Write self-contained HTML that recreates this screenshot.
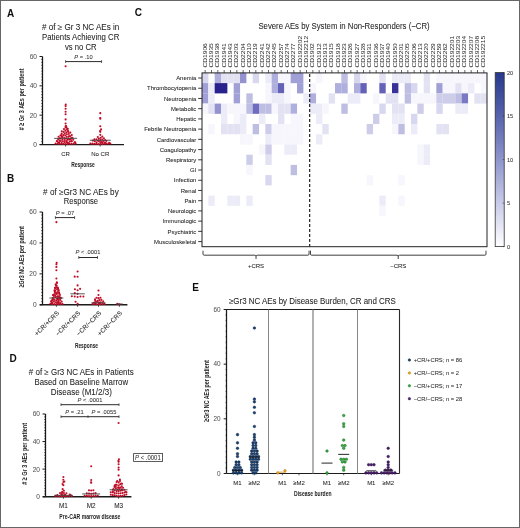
<!DOCTYPE html>
<html><head><meta charset="utf-8"><style>
html,body{margin:0;padding:0;background:#fff;}
svg{display:block;font-family:"Liberation Sans", sans-serif;}
</style></head><body>
<svg width="520" height="528" viewBox="0 0 520 528">
<rect x="0" y="0" width="520" height="528" fill="#fff"/>
<defs><filter id="soft" x="-2%" y="-2%" width="104%" height="104%"><feGaussianBlur stdDeviation="0.32"/></filter></defs>
<g filter="url(#soft)">
<text x="10.50" y="17.30" font-size="10" text-anchor="middle" fill="#111" font-weight="bold" font-style="normal" >A</text>
<text x="0" y="0" font-size="8.2" text-anchor="middle" fill="#222" font-weight="normal" font-style="normal" transform="translate(80.70,30.00) rotate(0) scale(0.989,1)"  stroke="#222" stroke-width="0.05"># of ≥ Gr 3 NC AEs in</text>
<text x="0" y="0" font-size="8.2" text-anchor="middle" fill="#222" font-weight="normal" font-style="normal" transform="translate(80.70,39.75) rotate(0) scale(0.955,1)"  stroke="#222" stroke-width="0.05">Patients Achieving CR</text>
<text x="0" y="0" font-size="8.2" text-anchor="middle" fill="#222" font-weight="normal" font-style="normal" transform="translate(80.70,49.50) rotate(0) scale(0.94,1)"  stroke="#222" stroke-width="0.05">vs no CR</text>
<line x1="42.50" y1="56.50" x2="42.50" y2="144.50" stroke="#1a1a1a" stroke-width="1.25" />
<line x1="39.50" y1="144.50" x2="42.50" y2="144.50" stroke="#1a1a1a" stroke-width="1.0" />
<line x1="41.10" y1="141.57" x2="42.50" y2="141.57" stroke="#1a1a1a" stroke-width="0.6" />
<line x1="41.10" y1="138.63" x2="42.50" y2="138.63" stroke="#1a1a1a" stroke-width="0.6" />
<line x1="41.10" y1="135.70" x2="42.50" y2="135.70" stroke="#1a1a1a" stroke-width="0.6" />
<line x1="41.10" y1="132.77" x2="42.50" y2="132.77" stroke="#1a1a1a" stroke-width="0.6" />
<line x1="41.10" y1="129.83" x2="42.50" y2="129.83" stroke="#1a1a1a" stroke-width="0.6" />
<line x1="41.10" y1="126.90" x2="42.50" y2="126.90" stroke="#1a1a1a" stroke-width="0.6" />
<line x1="41.10" y1="123.97" x2="42.50" y2="123.97" stroke="#1a1a1a" stroke-width="0.6" />
<line x1="41.10" y1="121.03" x2="42.50" y2="121.03" stroke="#1a1a1a" stroke-width="0.6" />
<line x1="41.10" y1="118.10" x2="42.50" y2="118.10" stroke="#1a1a1a" stroke-width="0.6" />
<line x1="39.50" y1="115.17" x2="42.50" y2="115.17" stroke="#1a1a1a" stroke-width="1.0" />
<line x1="41.10" y1="112.23" x2="42.50" y2="112.23" stroke="#1a1a1a" stroke-width="0.6" />
<line x1="41.10" y1="109.30" x2="42.50" y2="109.30" stroke="#1a1a1a" stroke-width="0.6" />
<line x1="41.10" y1="106.37" x2="42.50" y2="106.37" stroke="#1a1a1a" stroke-width="0.6" />
<line x1="41.10" y1="103.43" x2="42.50" y2="103.43" stroke="#1a1a1a" stroke-width="0.6" />
<line x1="41.10" y1="100.50" x2="42.50" y2="100.50" stroke="#1a1a1a" stroke-width="0.6" />
<line x1="41.10" y1="97.57" x2="42.50" y2="97.57" stroke="#1a1a1a" stroke-width="0.6" />
<line x1="41.10" y1="94.63" x2="42.50" y2="94.63" stroke="#1a1a1a" stroke-width="0.6" />
<line x1="41.10" y1="91.70" x2="42.50" y2="91.70" stroke="#1a1a1a" stroke-width="0.6" />
<line x1="41.10" y1="88.77" x2="42.50" y2="88.77" stroke="#1a1a1a" stroke-width="0.6" />
<line x1="39.50" y1="85.83" x2="42.50" y2="85.83" stroke="#1a1a1a" stroke-width="1.0" />
<line x1="41.10" y1="82.90" x2="42.50" y2="82.90" stroke="#1a1a1a" stroke-width="0.6" />
<line x1="41.10" y1="79.97" x2="42.50" y2="79.97" stroke="#1a1a1a" stroke-width="0.6" />
<line x1="41.10" y1="77.03" x2="42.50" y2="77.03" stroke="#1a1a1a" stroke-width="0.6" />
<line x1="41.10" y1="74.10" x2="42.50" y2="74.10" stroke="#1a1a1a" stroke-width="0.6" />
<line x1="41.10" y1="71.17" x2="42.50" y2="71.17" stroke="#1a1a1a" stroke-width="0.6" />
<line x1="41.10" y1="68.23" x2="42.50" y2="68.23" stroke="#1a1a1a" stroke-width="0.6" />
<line x1="41.10" y1="65.30" x2="42.50" y2="65.30" stroke="#1a1a1a" stroke-width="0.6" />
<line x1="41.10" y1="62.37" x2="42.50" y2="62.37" stroke="#1a1a1a" stroke-width="0.6" />
<line x1="41.10" y1="59.43" x2="42.50" y2="59.43" stroke="#1a1a1a" stroke-width="0.6" />
<line x1="39.50" y1="56.50" x2="42.50" y2="56.50" stroke="#1a1a1a" stroke-width="1.0" />
<text x="37.00" y="146.88" font-size="6.6" text-anchor="end" fill="#555" font-weight="normal" font-style="normal"  stroke="#555" stroke-width="0.05">0</text>
<text x="37.00" y="117.54" font-size="6.6" text-anchor="end" fill="#555" font-weight="normal" font-style="normal"  stroke="#555" stroke-width="0.05">20</text>
<text x="37.00" y="88.21" font-size="6.6" text-anchor="end" fill="#555" font-weight="normal" font-style="normal"  stroke="#555" stroke-width="0.05">40</text>
<text x="37.00" y="58.88" font-size="6.6" text-anchor="end" fill="#555" font-weight="normal" font-style="normal"  stroke="#555" stroke-width="0.05">60</text>
<line x1="39.80" y1="144.50" x2="124.00" y2="144.50" stroke="#1a1a1a" stroke-width="1.25" />
<line x1="65.60" y1="144.50" x2="65.60" y2="146.50" stroke="#222" stroke-width="0.8" />
<line x1="100.20" y1="144.50" x2="100.20" y2="146.50" stroke="#222" stroke-width="0.8" />
<text x="65.60" y="155.80" font-size="6.0" text-anchor="middle" fill="#222" font-weight="normal" font-style="normal"  stroke="#222" stroke-width="0.05">CR</text>
<text x="100.30" y="155.80" font-size="6.0" text-anchor="middle" fill="#222" font-weight="normal" font-style="normal"  stroke="#222" stroke-width="0.05">No CR</text>
<text x="0" y="0" font-size="8" text-anchor="middle" fill="#222" font-weight="bold" font-style="normal" transform="translate(83.00,167.00) rotate(0) scale(0.615,1)" >Response</text>
<text x="0" y="0" font-size="8" text-anchor="middle" fill="#222" font-weight="bold" font-style="normal" transform="translate(23.60,99.40) rotate(-90) scale(0.69,1)" ># ≥ Gr 3 AEs per patient</text>
<line x1="65.60" y1="61.60" x2="101.60" y2="61.60" stroke="#2a2a2a" stroke-width="1.0" />
<line x1="65.60" y1="60.20" x2="65.60" y2="63.00" stroke="#333" stroke-width="0.8" />
<line x1="101.60" y1="60.20" x2="101.60" y2="63.00" stroke="#333" stroke-width="0.8" />
<text x="0" y="0" font-size="6.2" text-anchor="middle" fill="#333" font-weight="normal" font-style="normal" transform="translate(83.50,59.00) rotate(0) scale(0.93,1)"  stroke="#333" stroke-width="0.05"><tspan font-style="italic">P</tspan> = .10</text>
<circle cx="65.60" cy="143.96" r="1.05" fill="#c00c28"/>
<circle cx="63.60" cy="143.85" r="1.05" fill="#c00c28"/>
<circle cx="67.60" cy="143.83" r="1.05" fill="#c00c28"/>
<circle cx="69.59" cy="143.79" r="1.05" fill="#c00c28"/>
<circle cx="61.60" cy="143.77" r="1.05" fill="#c00c28"/>
<circle cx="71.59" cy="143.73" r="1.05" fill="#c00c28"/>
<circle cx="59.61" cy="143.72" r="1.05" fill="#c00c28"/>
<circle cx="73.59" cy="143.71" r="1.05" fill="#c00c28"/>
<circle cx="57.61" cy="143.67" r="1.05" fill="#c00c28"/>
<circle cx="75.59" cy="143.57" r="1.05" fill="#c00c28"/>
<circle cx="55.61" cy="143.54" r="1.05" fill="#c00c28"/>
<circle cx="68.59" cy="143.00" r="1.05" fill="#c00c28"/>
<circle cx="61.63" cy="142.93" r="1.05" fill="#c00c28"/>
<circle cx="58.35" cy="142.78" r="1.05" fill="#c00c28"/>
<circle cx="67.54" cy="142.50" r="1.05" fill="#c00c28"/>
<circle cx="74.61" cy="142.41" r="1.05" fill="#c00c28"/>
<circle cx="66.84" cy="142.37" r="1.05" fill="#c00c28"/>
<circle cx="75.22" cy="142.23" r="1.05" fill="#c00c28"/>
<circle cx="59.19" cy="142.20" r="1.05" fill="#c00c28"/>
<circle cx="64.72" cy="142.17" r="1.05" fill="#c00c28"/>
<circle cx="69.84" cy="141.44" r="1.05" fill="#c00c28"/>
<circle cx="62.90" cy="141.34" r="1.05" fill="#c00c28"/>
<circle cx="71.83" cy="141.22" r="1.05" fill="#c00c28"/>
<circle cx="57.11" cy="141.20" r="1.05" fill="#c00c28"/>
<circle cx="71.22" cy="141.17" r="1.05" fill="#c00c28"/>
<circle cx="66.32" cy="141.09" r="1.05" fill="#c00c28"/>
<circle cx="60.93" cy="140.99" r="1.05" fill="#c00c28"/>
<circle cx="56.84" cy="140.93" r="1.05" fill="#c00c28"/>
<circle cx="59.62" cy="140.63" r="1.05" fill="#c00c28"/>
<circle cx="64.68" cy="139.94" r="1.05" fill="#c00c28"/>
<circle cx="67.87" cy="139.84" r="1.05" fill="#c00c28"/>
<circle cx="73.21" cy="139.77" r="1.05" fill="#c00c28"/>
<circle cx="62.45" cy="139.40" r="1.05" fill="#c00c28"/>
<circle cx="69.81" cy="139.33" r="1.05" fill="#c00c28"/>
<circle cx="58.10" cy="139.33" r="1.05" fill="#c00c28"/>
<circle cx="69.35" cy="139.31" r="1.05" fill="#c00c28"/>
<circle cx="70.94" cy="139.12" r="1.05" fill="#c00c28"/>
<circle cx="66.20" cy="138.64" r="1.05" fill="#c00c28"/>
<circle cx="60.67" cy="138.48" r="1.05" fill="#c00c28"/>
<circle cx="59.72" cy="138.38" r="1.05" fill="#c00c28"/>
<circle cx="68.49" cy="138.21" r="1.05" fill="#c00c28"/>
<circle cx="64.38" cy="137.81" r="1.05" fill="#c00c28"/>
<circle cx="72.45" cy="137.81" r="1.05" fill="#c00c28"/>
<circle cx="71.53" cy="137.75" r="1.05" fill="#c00c28"/>
<circle cx="62.53" cy="137.04" r="1.05" fill="#c00c28"/>
<circle cx="61.88" cy="136.85" r="1.05" fill="#c00c28"/>
<circle cx="66.86" cy="136.75" r="1.05" fill="#c00c28"/>
<circle cx="58.58" cy="136.74" r="1.05" fill="#c00c28"/>
<circle cx="68.78" cy="136.18" r="1.05" fill="#c00c28"/>
<circle cx="70.08" cy="136.17" r="1.05" fill="#c00c28"/>
<circle cx="65.29" cy="135.51" r="1.05" fill="#c00c28"/>
<circle cx="60.43" cy="135.47" r="1.05" fill="#c00c28"/>
<circle cx="63.33" cy="135.14" r="1.05" fill="#c00c28"/>
<circle cx="71.78" cy="135.12" r="1.05" fill="#c00c28"/>
<circle cx="61.34" cy="134.99" r="1.05" fill="#c00c28"/>
<circle cx="66.84" cy="134.24" r="1.05" fill="#c00c28"/>
<circle cx="68.82" cy="133.97" r="1.05" fill="#c00c28"/>
<circle cx="64.75" cy="133.59" r="1.05" fill="#c00c28"/>
<circle cx="61.69" cy="133.56" r="1.05" fill="#c00c28"/>
<circle cx="70.31" cy="132.64" r="1.05" fill="#c00c28"/>
<circle cx="66.29" cy="132.31" r="1.05" fill="#c00c28"/>
<circle cx="63.68" cy="131.90" r="1.05" fill="#c00c28"/>
<circle cx="68.25" cy="131.89" r="1.05" fill="#c00c28"/>
<circle cx="61.80" cy="131.22" r="1.05" fill="#c00c28"/>
<circle cx="67.95" cy="130.87" r="1.05" fill="#c00c28"/>
<circle cx="65.37" cy="130.54" r="1.05" fill="#c00c28"/>
<circle cx="66.84" cy="129.18" r="1.05" fill="#c00c28"/>
<circle cx="63.96" cy="129.12" r="1.05" fill="#c00c28"/>
<circle cx="67.82" cy="128.83" r="1.05" fill="#c00c28"/>
<circle cx="65.60" cy="127.50" r="1.05" fill="#c00c28"/>
<circle cx="66.43" cy="127.36" r="1.05" fill="#c00c28"/>
<circle cx="65.61" cy="126.33" r="1.05" fill="#c00c28"/>
<circle cx="66.02" cy="125.99" r="1.05" fill="#c00c28"/>
<circle cx="65.60" cy="123.56" r="1.05" fill="#c00c28"/>
<circle cx="65.60" cy="119.41" r="1.05" fill="#c00c28"/>
<circle cx="65.60" cy="114.32" r="1.05" fill="#c00c28"/>
<circle cx="65.60" cy="111.74" r="1.05" fill="#c00c28"/>
<circle cx="65.60" cy="108.81" r="1.05" fill="#c00c28"/>
<circle cx="65.60" cy="106.08" r="1.05" fill="#c00c28"/>
<circle cx="65.73" cy="104.57" r="1.05" fill="#c00c28"/>
<circle cx="65.60" cy="66.26" r="1.05" fill="#c00c28"/>
<line x1="54.10" y1="138.34" x2="77.10" y2="138.34" stroke="#444" stroke-width="0.9" />
<circle cx="100.30" cy="143.98" r="1.05" fill="#c00c28"/>
<circle cx="98.30" cy="143.96" r="1.05" fill="#c00c28"/>
<circle cx="102.30" cy="143.93" r="1.05" fill="#c00c28"/>
<circle cx="96.31" cy="143.78" r="1.05" fill="#c00c28"/>
<circle cx="104.29" cy="143.77" r="1.05" fill="#c00c28"/>
<circle cx="94.31" cy="143.77" r="1.05" fill="#c00c28"/>
<circle cx="106.29" cy="143.73" r="1.05" fill="#c00c28"/>
<circle cx="92.31" cy="143.64" r="1.05" fill="#c00c28"/>
<circle cx="108.29" cy="143.62" r="1.05" fill="#c00c28"/>
<circle cx="90.31" cy="143.60" r="1.05" fill="#c00c28"/>
<circle cx="110.29" cy="143.59" r="1.05" fill="#c00c28"/>
<circle cx="109.19" cy="142.86" r="1.05" fill="#c00c28"/>
<circle cx="102.37" cy="142.85" r="1.05" fill="#c00c28"/>
<circle cx="104.41" cy="142.84" r="1.05" fill="#c00c28"/>
<circle cx="105.45" cy="142.73" r="1.05" fill="#c00c28"/>
<circle cx="100.43" cy="142.70" r="1.05" fill="#c00c28"/>
<circle cx="96.54" cy="142.26" r="1.05" fill="#c00c28"/>
<circle cx="101.89" cy="142.09" r="1.05" fill="#c00c28"/>
<circle cx="100.79" cy="142.07" r="1.05" fill="#c00c28"/>
<circle cx="98.93" cy="141.36" r="1.05" fill="#c00c28"/>
<circle cx="94.83" cy="141.22" r="1.05" fill="#c00c28"/>
<circle cx="103.57" cy="141.01" r="1.05" fill="#c00c28"/>
<circle cx="106.34" cy="140.94" r="1.05" fill="#c00c28"/>
<circle cx="92.93" cy="140.60" r="1.05" fill="#c00c28"/>
<circle cx="97.96" cy="140.59" r="1.05" fill="#c00c28"/>
<circle cx="100.38" cy="139.99" r="1.05" fill="#c00c28"/>
<circle cx="105.17" cy="139.95" r="1.05" fill="#c00c28"/>
<circle cx="102.30" cy="139.45" r="1.05" fill="#c00c28"/>
<circle cx="96.46" cy="139.27" r="1.05" fill="#c00c28"/>
<circle cx="94.46" cy="139.19" r="1.05" fill="#c00c28"/>
<circle cx="98.89" cy="138.64" r="1.05" fill="#c00c28"/>
<circle cx="103.90" cy="138.24" r="1.05" fill="#c00c28"/>
<circle cx="100.73" cy="137.85" r="1.05" fill="#c00c28"/>
<circle cx="97.78" cy="136.98" r="1.05" fill="#c00c28"/>
<circle cx="102.29" cy="136.60" r="1.05" fill="#c00c28"/>
<circle cx="100.30" cy="134.85" r="1.05" fill="#c00c28"/>
<circle cx="100.30" cy="131.84" r="1.05" fill="#c00c28"/>
<circle cx="100.03" cy="131.07" r="1.05" fill="#c00c28"/>
<circle cx="101.11" cy="129.39" r="1.05" fill="#c00c28"/>
<circle cx="100.30" cy="126.26" r="1.05" fill="#c00c28"/>
<circle cx="100.30" cy="118.65" r="1.05" fill="#c00c28"/>
<circle cx="100.27" cy="117.98" r="1.05" fill="#c00c28"/>
<circle cx="100.30" cy="113.14" r="1.05" fill="#c00c28"/>
<line x1="89.80" y1="140.25" x2="110.80" y2="140.25" stroke="#444" stroke-width="0.9" />
<text x="10.50" y="182.00" font-size="10" text-anchor="middle" fill="#111" font-weight="bold" font-style="normal" >B</text>
<text x="0" y="0" font-size="8.2" text-anchor="middle" fill="#222" font-weight="normal" font-style="normal" transform="translate(80.90,194.80) rotate(0) scale(0.996,1)"  stroke="#222" stroke-width="0.05"># of ≥Gr3 NC AEs by</text>
<text x="0" y="0" font-size="8.2" text-anchor="middle" fill="#222" font-weight="normal" font-style="normal" transform="translate(80.90,204.40) rotate(0) scale(0.928,1)"  stroke="#222" stroke-width="0.05">Response</text>
<line x1="42.50" y1="212.00" x2="42.50" y2="304.80" stroke="#1a1a1a" stroke-width="1.25" />
<line x1="39.50" y1="304.80" x2="42.50" y2="304.80" stroke="#1a1a1a" stroke-width="1.0" />
<line x1="41.10" y1="301.71" x2="42.50" y2="301.71" stroke="#1a1a1a" stroke-width="0.6" />
<line x1="41.10" y1="298.61" x2="42.50" y2="298.61" stroke="#1a1a1a" stroke-width="0.6" />
<line x1="41.10" y1="295.52" x2="42.50" y2="295.52" stroke="#1a1a1a" stroke-width="0.6" />
<line x1="41.10" y1="292.43" x2="42.50" y2="292.43" stroke="#1a1a1a" stroke-width="0.6" />
<line x1="41.10" y1="289.33" x2="42.50" y2="289.33" stroke="#1a1a1a" stroke-width="0.6" />
<line x1="41.10" y1="286.24" x2="42.50" y2="286.24" stroke="#1a1a1a" stroke-width="0.6" />
<line x1="41.10" y1="283.15" x2="42.50" y2="283.15" stroke="#1a1a1a" stroke-width="0.6" />
<line x1="41.10" y1="280.05" x2="42.50" y2="280.05" stroke="#1a1a1a" stroke-width="0.6" />
<line x1="41.10" y1="276.96" x2="42.50" y2="276.96" stroke="#1a1a1a" stroke-width="0.6" />
<line x1="39.50" y1="273.87" x2="42.50" y2="273.87" stroke="#1a1a1a" stroke-width="1.0" />
<line x1="41.10" y1="270.77" x2="42.50" y2="270.77" stroke="#1a1a1a" stroke-width="0.6" />
<line x1="41.10" y1="267.68" x2="42.50" y2="267.68" stroke="#1a1a1a" stroke-width="0.6" />
<line x1="41.10" y1="264.59" x2="42.50" y2="264.59" stroke="#1a1a1a" stroke-width="0.6" />
<line x1="41.10" y1="261.49" x2="42.50" y2="261.49" stroke="#1a1a1a" stroke-width="0.6" />
<line x1="41.10" y1="258.40" x2="42.50" y2="258.40" stroke="#1a1a1a" stroke-width="0.6" />
<line x1="41.10" y1="255.31" x2="42.50" y2="255.31" stroke="#1a1a1a" stroke-width="0.6" />
<line x1="41.10" y1="252.21" x2="42.50" y2="252.21" stroke="#1a1a1a" stroke-width="0.6" />
<line x1="41.10" y1="249.12" x2="42.50" y2="249.12" stroke="#1a1a1a" stroke-width="0.6" />
<line x1="41.10" y1="246.03" x2="42.50" y2="246.03" stroke="#1a1a1a" stroke-width="0.6" />
<line x1="39.50" y1="242.93" x2="42.50" y2="242.93" stroke="#1a1a1a" stroke-width="1.0" />
<line x1="41.10" y1="239.84" x2="42.50" y2="239.84" stroke="#1a1a1a" stroke-width="0.6" />
<line x1="41.10" y1="236.75" x2="42.50" y2="236.75" stroke="#1a1a1a" stroke-width="0.6" />
<line x1="41.10" y1="233.65" x2="42.50" y2="233.65" stroke="#1a1a1a" stroke-width="0.6" />
<line x1="41.10" y1="230.56" x2="42.50" y2="230.56" stroke="#1a1a1a" stroke-width="0.6" />
<line x1="41.10" y1="227.47" x2="42.50" y2="227.47" stroke="#1a1a1a" stroke-width="0.6" />
<line x1="41.10" y1="224.37" x2="42.50" y2="224.37" stroke="#1a1a1a" stroke-width="0.6" />
<line x1="41.10" y1="221.28" x2="42.50" y2="221.28" stroke="#1a1a1a" stroke-width="0.6" />
<line x1="41.10" y1="218.19" x2="42.50" y2="218.19" stroke="#1a1a1a" stroke-width="0.6" />
<line x1="41.10" y1="215.09" x2="42.50" y2="215.09" stroke="#1a1a1a" stroke-width="0.6" />
<line x1="39.50" y1="212.00" x2="42.50" y2="212.00" stroke="#1a1a1a" stroke-width="1.0" />
<text x="36.60" y="307.18" font-size="6.6" text-anchor="end" fill="#555" font-weight="normal" font-style="normal"  stroke="#555" stroke-width="0.05">0</text>
<text x="36.60" y="276.24" font-size="6.6" text-anchor="end" fill="#555" font-weight="normal" font-style="normal"  stroke="#555" stroke-width="0.05">20</text>
<text x="36.60" y="245.31" font-size="6.6" text-anchor="end" fill="#555" font-weight="normal" font-style="normal"  stroke="#555" stroke-width="0.05">40</text>
<text x="36.60" y="214.38" font-size="6.6" text-anchor="end" fill="#555" font-weight="normal" font-style="normal"  stroke="#555" stroke-width="0.05">60</text>
<line x1="39.80" y1="304.80" x2="127.40" y2="304.80" stroke="#1a1a1a" stroke-width="1.4" />
<line x1="56.40" y1="304.80" x2="56.40" y2="306.80" stroke="#222" stroke-width="0.8" />
<circle cx="56.40" cy="304.17" r="1.05" fill="#c00c28"/>
<circle cx="54.40" cy="304.07" r="1.05" fill="#c00c28"/>
<circle cx="58.40" cy="304.04" r="1.05" fill="#c00c28"/>
<circle cx="60.40" cy="304.02" r="1.05" fill="#c00c28"/>
<circle cx="52.40" cy="304.00" r="1.05" fill="#c00c28"/>
<circle cx="62.39" cy="303.88" r="1.05" fill="#c00c28"/>
<circle cx="50.42" cy="303.78" r="1.05" fill="#c00c28"/>
<circle cx="58.64" cy="303.76" r="1.05" fill="#c00c28"/>
<circle cx="51.66" cy="303.22" r="1.05" fill="#c00c28"/>
<circle cx="52.10" cy="303.07" r="1.05" fill="#c00c28"/>
<circle cx="57.96" cy="303.07" r="1.05" fill="#c00c28"/>
<circle cx="60.09" cy="302.89" r="1.05" fill="#c00c28"/>
<circle cx="51.93" cy="302.60" r="1.05" fill="#c00c28"/>
<circle cx="58.14" cy="302.47" r="1.05" fill="#c00c28"/>
<circle cx="55.98" cy="302.22" r="1.05" fill="#c00c28"/>
<circle cx="54.04" cy="301.72" r="1.05" fill="#c00c28"/>
<circle cx="61.61" cy="301.58" r="1.05" fill="#c00c28"/>
<circle cx="58.30" cy="301.55" r="1.05" fill="#c00c28"/>
<circle cx="51.02" cy="301.33" r="1.05" fill="#c00c28"/>
<circle cx="58.51" cy="301.14" r="1.05" fill="#c00c28"/>
<circle cx="56.24" cy="300.77" r="1.05" fill="#c00c28"/>
<circle cx="51.93" cy="300.74" r="1.05" fill="#c00c28"/>
<circle cx="52.39" cy="300.13" r="1.05" fill="#c00c28"/>
<circle cx="60.19" cy="300.07" r="1.05" fill="#c00c28"/>
<circle cx="54.54" cy="299.72" r="1.05" fill="#c00c28"/>
<circle cx="53.81" cy="299.60" r="1.05" fill="#c00c28"/>
<circle cx="58.58" cy="299.54" r="1.05" fill="#c00c28"/>
<circle cx="52.69" cy="299.48" r="1.05" fill="#c00c28"/>
<circle cx="57.26" cy="299.43" r="1.05" fill="#c00c28"/>
<circle cx="60.06" cy="298.51" r="1.05" fill="#c00c28"/>
<circle cx="57.06" cy="298.45" r="1.05" fill="#c00c28"/>
<circle cx="58.30" cy="298.42" r="1.05" fill="#c00c28"/>
<circle cx="52.66" cy="298.12" r="1.05" fill="#c00c28"/>
<circle cx="60.82" cy="297.96" r="1.05" fill="#c00c28"/>
<circle cx="60.70" cy="297.92" r="1.05" fill="#c00c28"/>
<circle cx="55.58" cy="297.11" r="1.05" fill="#c00c28"/>
<circle cx="59.66" cy="297.11" r="1.05" fill="#c00c28"/>
<circle cx="53.97" cy="297.10" r="1.05" fill="#c00c28"/>
<circle cx="57.48" cy="296.49" r="1.05" fill="#c00c28"/>
<circle cx="57.19" cy="296.48" r="1.05" fill="#c00c28"/>
<circle cx="58.57" cy="296.38" r="1.05" fill="#c00c28"/>
<circle cx="55.07" cy="295.17" r="1.05" fill="#c00c28"/>
<circle cx="53.07" cy="295.14" r="1.05" fill="#c00c28"/>
<circle cx="59.98" cy="294.96" r="1.05" fill="#c00c28"/>
<circle cx="53.58" cy="294.90" r="1.05" fill="#c00c28"/>
<circle cx="53.61" cy="294.70" r="1.05" fill="#c00c28"/>
<circle cx="56.67" cy="293.97" r="1.05" fill="#c00c28"/>
<circle cx="59.20" cy="293.80" r="1.05" fill="#c00c28"/>
<circle cx="56.81" cy="293.51" r="1.05" fill="#c00c28"/>
<circle cx="59.26" cy="293.47" r="1.05" fill="#c00c28"/>
<circle cx="54.87" cy="293.04" r="1.05" fill="#c00c28"/>
<circle cx="55.91" cy="292.46" r="1.05" fill="#c00c28"/>
<circle cx="59.05" cy="292.27" r="1.05" fill="#c00c28"/>
<circle cx="57.66" cy="291.96" r="1.05" fill="#c00c28"/>
<circle cx="54.67" cy="291.61" r="1.05" fill="#c00c28"/>
<circle cx="55.09" cy="290.59" r="1.05" fill="#c00c28"/>
<circle cx="58.53" cy="290.42" r="1.05" fill="#c00c28"/>
<circle cx="54.50" cy="290.29" r="1.05" fill="#c00c28"/>
<circle cx="58.53" cy="289.93" r="1.05" fill="#c00c28"/>
<circle cx="57.00" cy="289.34" r="1.05" fill="#c00c28"/>
<circle cx="58.01" cy="288.48" r="1.05" fill="#c00c28"/>
<circle cx="55.28" cy="288.44" r="1.05" fill="#c00c28"/>
<circle cx="54.94" cy="287.77" r="1.05" fill="#c00c28"/>
<circle cx="57.76" cy="287.65" r="1.05" fill="#c00c28"/>
<circle cx="56.51" cy="287.28" r="1.05" fill="#c00c28"/>
<circle cx="55.97" cy="285.65" r="1.05" fill="#c00c28"/>
<circle cx="56.61" cy="285.53" r="1.05" fill="#c00c28"/>
<circle cx="55.69" cy="284.42" r="1.05" fill="#c00c28"/>
<circle cx="57.01" cy="282.92" r="1.05" fill="#c00c28"/>
<circle cx="56.80" cy="282.34" r="1.05" fill="#c00c28"/>
<circle cx="56.40" cy="278.49" r="1.05" fill="#c00c28"/>
<circle cx="56.40" cy="270.29" r="1.05" fill="#c00c28"/>
<circle cx="56.40" cy="266.91" r="1.05" fill="#c00c28"/>
<circle cx="56.40" cy="264.30" r="1.05" fill="#c00c28"/>
<circle cx="56.66" cy="262.85" r="1.05" fill="#c00c28"/>
<circle cx="56.40" cy="222.16" r="1.05" fill="#c00c28"/>
<line x1="49.40" y1="297.99" x2="63.40" y2="297.99" stroke="#444" stroke-width="0.9" />
<text x="0" y="0" font-size="6.4" text-anchor="end" fill="#222" font-weight="normal" font-style="normal" transform="translate(59.60,313.60) rotate(-45) scale(1.0,1)"  stroke="#222" stroke-width="0.05">+CR/+CRS</text>
<line x1="77.60" y1="304.80" x2="77.60" y2="306.80" stroke="#222" stroke-width="0.8" />
<circle cx="77.60" cy="303.78" r="1.05" fill="#c00c28"/>
<circle cx="75.56" cy="301.72" r="1.05" fill="#c00c28"/>
<circle cx="77.60" cy="296.95" r="1.05" fill="#c00c28"/>
<circle cx="74.73" cy="296.57" r="1.05" fill="#c00c28"/>
<circle cx="80.46" cy="296.45" r="1.05" fill="#c00c28"/>
<circle cx="83.36" cy="296.43" r="1.05" fill="#c00c28"/>
<circle cx="71.85" cy="296.19" r="1.05" fill="#c00c28"/>
<circle cx="77.60" cy="293.83" r="1.05" fill="#c00c28"/>
<circle cx="74.78" cy="293.13" r="1.05" fill="#c00c28"/>
<circle cx="77.60" cy="290.32" r="1.05" fill="#c00c28"/>
<circle cx="74.90" cy="289.25" r="1.05" fill="#c00c28"/>
<circle cx="80.11" cy="288.86" r="1.05" fill="#c00c28"/>
<circle cx="77.60" cy="285.39" r="1.05" fill="#c00c28"/>
<circle cx="77.60" cy="276.74" r="1.05" fill="#c00c28"/>
<circle cx="74.70" cy="276.65" r="1.05" fill="#c00c28"/>
<circle cx="77.60" cy="271.50" r="1.05" fill="#c00c28"/>
<line x1="70.40" y1="293.82" x2="84.80" y2="293.82" stroke="#444" stroke-width="0.9" />
<text x="0" y="0" font-size="6.4" text-anchor="end" fill="#222" font-weight="normal" font-style="normal" transform="translate(80.80,313.60) rotate(-45) scale(1.0,1)"  stroke="#222" stroke-width="0.05">−CR/+CRS</text>
<line x1="98.50" y1="304.80" x2="98.50" y2="306.80" stroke="#222" stroke-width="0.8" />
<circle cx="98.50" cy="304.27" r="1.05" fill="#c00c28"/>
<circle cx="96.50" cy="304.27" r="1.05" fill="#c00c28"/>
<circle cx="100.49" cy="304.11" r="1.05" fill="#c00c28"/>
<circle cx="102.49" cy="304.11" r="1.05" fill="#c00c28"/>
<circle cx="94.51" cy="304.04" r="1.05" fill="#c00c28"/>
<circle cx="92.52" cy="303.93" r="1.05" fill="#c00c28"/>
<circle cx="104.48" cy="303.91" r="1.05" fill="#c00c28"/>
<circle cx="99.47" cy="303.85" r="1.05" fill="#c00c28"/>
<circle cx="102.63" cy="303.26" r="1.05" fill="#c00c28"/>
<circle cx="95.50" cy="303.08" r="1.05" fill="#c00c28"/>
<circle cx="98.67" cy="302.90" r="1.05" fill="#c00c28"/>
<circle cx="93.78" cy="302.76" r="1.05" fill="#c00c28"/>
<circle cx="99.00" cy="302.53" r="1.05" fill="#c00c28"/>
<circle cx="100.79" cy="302.23" r="1.05" fill="#c00c28"/>
<circle cx="97.04" cy="301.74" r="1.05" fill="#c00c28"/>
<circle cx="103.17" cy="301.33" r="1.05" fill="#c00c28"/>
<circle cx="95.22" cy="300.91" r="1.05" fill="#c00c28"/>
<circle cx="97.56" cy="300.89" r="1.05" fill="#c00c28"/>
<circle cx="99.42" cy="300.15" r="1.05" fill="#c00c28"/>
<circle cx="101.40" cy="299.87" r="1.05" fill="#c00c28"/>
<circle cx="95.05" cy="299.39" r="1.05" fill="#c00c28"/>
<circle cx="98.50" cy="298.13" r="1.05" fill="#c00c28"/>
<circle cx="96.54" cy="297.75" r="1.05" fill="#c00c28"/>
<circle cx="100.46" cy="297.72" r="1.05" fill="#c00c28"/>
<circle cx="98.50" cy="294.98" r="1.05" fill="#c00c28"/>
<circle cx="98.50" cy="290.49" r="1.05" fill="#c00c28"/>
<line x1="91.50" y1="302.79" x2="105.50" y2="302.79" stroke="#444" stroke-width="0.9" />
<text x="0" y="0" font-size="6.4" text-anchor="end" fill="#222" font-weight="normal" font-style="normal" transform="translate(101.70,313.60) rotate(-45) scale(1.0,1)"  stroke="#222" stroke-width="0.05">−CR/−CRS</text>
<line x1="119.40" y1="304.80" x2="119.40" y2="306.80" stroke="#222" stroke-width="0.8" />
<circle cx="119.40" cy="304.20" r="1.05" fill="#c00c28"/>
<circle cx="117.44" cy="303.80" r="1.05" fill="#c00c28"/>
<line x1="115.90" y1="304.03" x2="122.90" y2="304.03" stroke="#444" stroke-width="0.9" />
<text x="0" y="0" font-size="6.4" text-anchor="end" fill="#222" font-weight="normal" font-style="normal" transform="translate(122.60,313.60) rotate(-45) scale(1.0,1)"  stroke="#222" stroke-width="0.05">+CR/−CRS</text>
<text x="0" y="0" font-size="8" text-anchor="middle" fill="#222" font-weight="bold" font-style="normal" transform="translate(86.50,347.50) rotate(0) scale(0.605,1)" >Response</text>
<text x="0" y="0" font-size="8" text-anchor="middle" fill="#222" font-weight="bold" font-style="normal" transform="translate(23.60,256.70) rotate(-90) scale(0.663,1)" >≥Gr3 NC AEs per patient</text>
<line x1="55.40" y1="217.60" x2="74.60" y2="217.60" stroke="#2a2a2a" stroke-width="1.0" />
<line x1="55.40" y1="216.20" x2="55.40" y2="219.00" stroke="#333" stroke-width="0.8" />
<line x1="74.60" y1="216.20" x2="74.60" y2="219.00" stroke="#333" stroke-width="0.8" />
<text x="0" y="0" font-size="6.2" text-anchor="middle" fill="#333" font-weight="normal" font-style="normal" transform="translate(65.00,214.60) rotate(0) scale(0.93,1)"  stroke="#333" stroke-width="0.05"><tspan font-style="italic">P</tspan> = .07</text>
<line x1="78.80" y1="257.50" x2="97.50" y2="257.50" stroke="#2a2a2a" stroke-width="1.0" />
<line x1="78.80" y1="256.10" x2="78.80" y2="258.90" stroke="#333" stroke-width="0.8" />
<line x1="97.50" y1="256.10" x2="97.50" y2="258.90" stroke="#333" stroke-width="0.8" />
<text x="0" y="0" font-size="6.2" text-anchor="middle" fill="#333" font-weight="normal" font-style="normal" transform="translate(88.00,254.00) rotate(0) scale(0.93,1)"  stroke="#333" stroke-width="0.05"><tspan font-style="italic">P</tspan> &lt; .0001</text>
<text x="13.00" y="362.00" font-size="10" text-anchor="middle" fill="#111" font-weight="bold" font-style="normal" >D</text>
<text x="0" y="0" font-size="8.2" text-anchor="middle" fill="#222" font-weight="normal" font-style="normal" transform="translate(81.30,375.00) rotate(0) scale(0.973,1)"  stroke="#222" stroke-width="0.05"># of ≥ Gr3 NC AEs in Patients</text>
<text x="0" y="0" font-size="8.2" text-anchor="middle" fill="#222" font-weight="normal" font-style="normal" transform="translate(81.30,384.75) rotate(0) scale(0.956,1)"  stroke="#222" stroke-width="0.05">Based on Baseline Marrow</text>
<text x="0" y="0" font-size="8.2" text-anchor="middle" fill="#222" font-weight="normal" font-style="normal" transform="translate(81.30,394.50) rotate(0) scale(0.98,1)"  stroke="#222" stroke-width="0.05">Disease (M1/2/3)</text>
<line x1="45.50" y1="414.00" x2="45.50" y2="496.70" stroke="#1a1a1a" stroke-width="1.25" />
<line x1="42.50" y1="496.70" x2="45.50" y2="496.70" stroke="#1a1a1a" stroke-width="1.0" />
<line x1="44.10" y1="493.94" x2="45.50" y2="493.94" stroke="#1a1a1a" stroke-width="0.6" />
<line x1="44.10" y1="491.19" x2="45.50" y2="491.19" stroke="#1a1a1a" stroke-width="0.6" />
<line x1="44.10" y1="488.43" x2="45.50" y2="488.43" stroke="#1a1a1a" stroke-width="0.6" />
<line x1="44.10" y1="485.67" x2="45.50" y2="485.67" stroke="#1a1a1a" stroke-width="0.6" />
<line x1="44.10" y1="482.92" x2="45.50" y2="482.92" stroke="#1a1a1a" stroke-width="0.6" />
<line x1="44.10" y1="480.16" x2="45.50" y2="480.16" stroke="#1a1a1a" stroke-width="0.6" />
<line x1="44.10" y1="477.40" x2="45.50" y2="477.40" stroke="#1a1a1a" stroke-width="0.6" />
<line x1="44.10" y1="474.65" x2="45.50" y2="474.65" stroke="#1a1a1a" stroke-width="0.6" />
<line x1="44.10" y1="471.89" x2="45.50" y2="471.89" stroke="#1a1a1a" stroke-width="0.6" />
<line x1="42.50" y1="469.13" x2="45.50" y2="469.13" stroke="#1a1a1a" stroke-width="1.0" />
<line x1="44.10" y1="466.38" x2="45.50" y2="466.38" stroke="#1a1a1a" stroke-width="0.6" />
<line x1="44.10" y1="463.62" x2="45.50" y2="463.62" stroke="#1a1a1a" stroke-width="0.6" />
<line x1="44.10" y1="460.86" x2="45.50" y2="460.86" stroke="#1a1a1a" stroke-width="0.6" />
<line x1="44.10" y1="458.11" x2="45.50" y2="458.11" stroke="#1a1a1a" stroke-width="0.6" />
<line x1="44.10" y1="455.35" x2="45.50" y2="455.35" stroke="#1a1a1a" stroke-width="0.6" />
<line x1="44.10" y1="452.59" x2="45.50" y2="452.59" stroke="#1a1a1a" stroke-width="0.6" />
<line x1="44.10" y1="449.84" x2="45.50" y2="449.84" stroke="#1a1a1a" stroke-width="0.6" />
<line x1="44.10" y1="447.08" x2="45.50" y2="447.08" stroke="#1a1a1a" stroke-width="0.6" />
<line x1="44.10" y1="444.32" x2="45.50" y2="444.32" stroke="#1a1a1a" stroke-width="0.6" />
<line x1="42.50" y1="441.57" x2="45.50" y2="441.57" stroke="#1a1a1a" stroke-width="1.0" />
<line x1="44.10" y1="438.81" x2="45.50" y2="438.81" stroke="#1a1a1a" stroke-width="0.6" />
<line x1="44.10" y1="436.05" x2="45.50" y2="436.05" stroke="#1a1a1a" stroke-width="0.6" />
<line x1="44.10" y1="433.30" x2="45.50" y2="433.30" stroke="#1a1a1a" stroke-width="0.6" />
<line x1="44.10" y1="430.54" x2="45.50" y2="430.54" stroke="#1a1a1a" stroke-width="0.6" />
<line x1="44.10" y1="427.78" x2="45.50" y2="427.78" stroke="#1a1a1a" stroke-width="0.6" />
<line x1="44.10" y1="425.03" x2="45.50" y2="425.03" stroke="#1a1a1a" stroke-width="0.6" />
<line x1="44.10" y1="422.27" x2="45.50" y2="422.27" stroke="#1a1a1a" stroke-width="0.6" />
<line x1="44.10" y1="419.51" x2="45.50" y2="419.51" stroke="#1a1a1a" stroke-width="0.6" />
<line x1="44.10" y1="416.76" x2="45.50" y2="416.76" stroke="#1a1a1a" stroke-width="0.6" />
<line x1="42.50" y1="414.00" x2="45.50" y2="414.00" stroke="#1a1a1a" stroke-width="1.0" />
<text x="40.00" y="499.08" font-size="6.6" text-anchor="end" fill="#555" font-weight="normal" font-style="normal"  stroke="#555" stroke-width="0.05">0</text>
<text x="40.00" y="471.51" font-size="6.6" text-anchor="end" fill="#555" font-weight="normal" font-style="normal"  stroke="#555" stroke-width="0.05">20</text>
<text x="40.00" y="443.94" font-size="6.6" text-anchor="end" fill="#555" font-weight="normal" font-style="normal"  stroke="#555" stroke-width="0.05">40</text>
<text x="40.00" y="416.38" font-size="6.6" text-anchor="end" fill="#555" font-weight="normal" font-style="normal"  stroke="#555" stroke-width="0.05">60</text>
<line x1="42.80" y1="496.70" x2="131.40" y2="496.70" stroke="#1a1a1a" stroke-width="1.4" />
<line x1="63.40" y1="496.70" x2="63.40" y2="498.70" stroke="#222" stroke-width="0.8" />
<circle cx="63.40" cy="496.16" r="1.05" fill="#c00c28"/>
<circle cx="61.40" cy="496.16" r="1.05" fill="#c00c28"/>
<circle cx="65.40" cy="496.16" r="1.05" fill="#c00c28"/>
<circle cx="59.40" cy="496.10" r="1.05" fill="#c00c28"/>
<circle cx="67.40" cy="496.06" r="1.05" fill="#c00c28"/>
<circle cx="57.40" cy="495.99" r="1.05" fill="#c00c28"/>
<circle cx="69.40" cy="495.97" r="1.05" fill="#c00c28"/>
<circle cx="55.41" cy="495.90" r="1.05" fill="#c00c28"/>
<circle cx="71.39" cy="495.84" r="1.05" fill="#c00c28"/>
<circle cx="71.70" cy="495.76" r="1.05" fill="#c00c28"/>
<circle cx="57.30" cy="495.09" r="1.05" fill="#c00c28"/>
<circle cx="64.63" cy="495.04" r="1.05" fill="#c00c28"/>
<circle cx="70.34" cy="494.99" r="1.05" fill="#c00c28"/>
<circle cx="65.06" cy="494.71" r="1.05" fill="#c00c28"/>
<circle cx="69.70" cy="494.65" r="1.05" fill="#c00c28"/>
<circle cx="61.89" cy="494.49" r="1.05" fill="#c00c28"/>
<circle cx="62.51" cy="494.49" r="1.05" fill="#c00c28"/>
<circle cx="61.56" cy="494.46" r="1.05" fill="#c00c28"/>
<circle cx="61.57" cy="494.37" r="1.05" fill="#c00c28"/>
<circle cx="66.41" cy="493.24" r="1.05" fill="#c00c28"/>
<circle cx="60.04" cy="493.08" r="1.05" fill="#c00c28"/>
<circle cx="63.89" cy="493.05" r="1.05" fill="#c00c28"/>
<circle cx="62.03" cy="492.33" r="1.05" fill="#c00c28"/>
<circle cx="62.29" cy="491.96" r="1.05" fill="#c00c28"/>
<circle cx="63.89" cy="490.76" r="1.05" fill="#c00c28"/>
<circle cx="62.67" cy="489.17" r="1.05" fill="#c00c28"/>
<circle cx="63.40" cy="485.19" r="1.05" fill="#c00c28"/>
<circle cx="62.55" cy="484.08" r="1.05" fill="#c00c28"/>
<circle cx="63.40" cy="482.03" r="1.05" fill="#c00c28"/>
<circle cx="64.37" cy="481.49" r="1.05" fill="#c00c28"/>
<circle cx="63.27" cy="479.81" r="1.05" fill="#c00c28"/>
<circle cx="63.40" cy="477.07" r="1.05" fill="#c00c28"/>
<line x1="54.40" y1="495.32" x2="72.40" y2="495.32" stroke="#444" stroke-width="0.9" />
<text x="63.40" y="507.50" font-size="6.4" text-anchor="middle" fill="#222" font-weight="normal" font-style="normal"  stroke="#222" stroke-width="0.05">M1</text>
<line x1="91.20" y1="496.70" x2="91.20" y2="498.70" stroke="#222" stroke-width="0.8" />
<circle cx="91.20" cy="496.16" r="1.05" fill="#c00c28"/>
<circle cx="89.00" cy="496.10" r="1.05" fill="#c00c28"/>
<circle cx="93.39" cy="495.96" r="1.05" fill="#c00c28"/>
<circle cx="86.82" cy="495.84" r="1.05" fill="#c00c28"/>
<circle cx="95.59" cy="495.83" r="1.05" fill="#c00c28"/>
<circle cx="84.62" cy="495.73" r="1.05" fill="#c00c28"/>
<circle cx="97.78" cy="495.72" r="1.05" fill="#c00c28"/>
<circle cx="91.20" cy="493.69" r="1.05" fill="#c00c28"/>
<circle cx="89.00" cy="493.57" r="1.05" fill="#c00c28"/>
<circle cx="93.39" cy="493.48" r="1.05" fill="#c00c28"/>
<circle cx="86.81" cy="493.34" r="1.05" fill="#c00c28"/>
<circle cx="95.56" cy="493.13" r="1.05" fill="#c00c28"/>
<circle cx="91.20" cy="490.45" r="1.05" fill="#c00c28"/>
<circle cx="89.00" cy="490.35" r="1.05" fill="#c00c28"/>
<circle cx="93.39" cy="490.25" r="1.05" fill="#c00c28"/>
<circle cx="91.20" cy="482.74" r="1.05" fill="#c00c28"/>
<circle cx="91.10" cy="482.24" r="1.05" fill="#c00c28"/>
<circle cx="91.20" cy="479.98" r="1.05" fill="#c00c28"/>
<circle cx="91.20" cy="466.28" r="1.05" fill="#c00c28"/>
<line x1="82.20" y1="493.94" x2="100.20" y2="493.94" stroke="#444" stroke-width="0.9" />
<text x="91.20" y="507.50" font-size="6.4" text-anchor="middle" fill="#222" font-weight="normal" font-style="normal"  stroke="#222" stroke-width="0.05">M2</text>
<line x1="118.60" y1="496.70" x2="118.60" y2="498.70" stroke="#222" stroke-width="0.8" />
<circle cx="118.60" cy="496.12" r="1.05" fill="#c00c28"/>
<circle cx="116.61" cy="495.92" r="1.05" fill="#c00c28"/>
<circle cx="120.58" cy="495.84" r="1.05" fill="#c00c28"/>
<circle cx="122.58" cy="495.78" r="1.05" fill="#c00c28"/>
<circle cx="114.75" cy="495.19" r="1.05" fill="#c00c28"/>
<circle cx="112.75" cy="495.13" r="1.05" fill="#c00c28"/>
<circle cx="124.46" cy="495.11" r="1.05" fill="#c00c28"/>
<circle cx="110.78" cy="494.80" r="1.05" fill="#c00c28"/>
<circle cx="126.36" cy="494.47" r="1.05" fill="#c00c28"/>
<circle cx="118.60" cy="493.43" r="1.05" fill="#c00c28"/>
<circle cx="116.60" cy="493.30" r="1.05" fill="#c00c28"/>
<circle cx="120.58" cy="493.18" r="1.05" fill="#c00c28"/>
<circle cx="122.58" cy="493.09" r="1.05" fill="#c00c28"/>
<circle cx="114.62" cy="493.09" r="1.05" fill="#c00c28"/>
<circle cx="124.48" cy="492.47" r="1.05" fill="#c00c28"/>
<circle cx="112.75" cy="492.37" r="1.05" fill="#c00c28"/>
<circle cx="110.75" cy="492.34" r="1.05" fill="#c00c28"/>
<circle cx="126.47" cy="492.28" r="1.05" fill="#c00c28"/>
<circle cx="125.64" cy="491.79" r="1.05" fill="#c00c28"/>
<circle cx="112.88" cy="491.78" r="1.05" fill="#c00c28"/>
<circle cx="118.60" cy="491.16" r="1.05" fill="#c00c28"/>
<circle cx="116.60" cy="491.09" r="1.05" fill="#c00c28"/>
<circle cx="120.57" cy="490.82" r="1.05" fill="#c00c28"/>
<circle cx="114.72" cy="490.43" r="1.05" fill="#c00c28"/>
<circle cx="122.50" cy="490.30" r="1.05" fill="#c00c28"/>
<circle cx="122.17" cy="490.29" r="1.05" fill="#c00c28"/>
<circle cx="124.44" cy="489.79" r="1.05" fill="#c00c28"/>
<circle cx="112.85" cy="489.71" r="1.05" fill="#c00c28"/>
<circle cx="117.47" cy="489.61" r="1.05" fill="#c00c28"/>
<circle cx="121.77" cy="489.35" r="1.05" fill="#c00c28"/>
<circle cx="119.41" cy="489.15" r="1.05" fill="#c00c28"/>
<circle cx="113.58" cy="488.96" r="1.05" fill="#c00c28"/>
<circle cx="115.91" cy="488.35" r="1.05" fill="#c00c28"/>
<circle cx="123.03" cy="487.79" r="1.05" fill="#c00c28"/>
<circle cx="118.06" cy="487.67" r="1.05" fill="#c00c28"/>
<circle cx="120.70" cy="487.62" r="1.05" fill="#c00c28"/>
<circle cx="118.96" cy="487.57" r="1.05" fill="#c00c28"/>
<circle cx="114.46" cy="486.97" r="1.05" fill="#c00c28"/>
<circle cx="115.77" cy="486.67" r="1.05" fill="#c00c28"/>
<circle cx="114.90" cy="486.31" r="1.05" fill="#c00c28"/>
<circle cx="121.76" cy="486.22" r="1.05" fill="#c00c28"/>
<circle cx="118.60" cy="485.53" r="1.05" fill="#c00c28"/>
<circle cx="114.69" cy="485.45" r="1.05" fill="#c00c28"/>
<circle cx="116.73" cy="484.81" r="1.05" fill="#c00c28"/>
<circle cx="115.45" cy="484.73" r="1.05" fill="#c00c28"/>
<circle cx="120.16" cy="484.27" r="1.05" fill="#c00c28"/>
<circle cx="122.10" cy="483.78" r="1.05" fill="#c00c28"/>
<circle cx="121.16" cy="483.62" r="1.05" fill="#c00c28"/>
<circle cx="118.60" cy="482.40" r="1.05" fill="#c00c28"/>
<circle cx="116.62" cy="482.11" r="1.05" fill="#c00c28"/>
<circle cx="120.00" cy="480.97" r="1.05" fill="#c00c28"/>
<circle cx="117.19" cy="480.93" r="1.05" fill="#c00c28"/>
<circle cx="119.93" cy="479.65" r="1.05" fill="#c00c28"/>
<circle cx="118.60" cy="475.42" r="1.05" fill="#c00c28"/>
<circle cx="118.60" cy="469.64" r="1.05" fill="#c00c28"/>
<circle cx="118.60" cy="467.44" r="1.05" fill="#c00c28"/>
<circle cx="118.60" cy="464.24" r="1.05" fill="#c00c28"/>
<circle cx="118.60" cy="461.87" r="1.05" fill="#c00c28"/>
<circle cx="118.49" cy="460.75" r="1.05" fill="#c00c28"/>
<circle cx="118.91" cy="459.29" r="1.05" fill="#c00c28"/>
<circle cx="118.60" cy="422.94" r="1.05" fill="#c00c28"/>
<line x1="109.60" y1="489.81" x2="127.60" y2="489.81" stroke="#444" stroke-width="0.9" />
<text x="118.60" y="507.50" font-size="6.4" text-anchor="middle" fill="#222" font-weight="normal" font-style="normal"  stroke="#222" stroke-width="0.05">M3</text>
<text x="0" y="0" font-size="8" text-anchor="middle" fill="#222" font-weight="bold" font-style="normal" transform="translate(89.80,519.40) rotate(0) scale(0.64,1)" >Pre-CAR marrow disease</text>
<text x="0" y="0" font-size="8" text-anchor="middle" fill="#222" font-weight="bold" font-style="normal" transform="translate(27.20,453.90) rotate(-90) scale(0.69,1)" ># ≥ Gr 3 AEs per patient</text>
<line x1="61.00" y1="404.70" x2="119.00" y2="404.70" stroke="#2a2a2a" stroke-width="1.0" />
<line x1="61.00" y1="403.40" x2="61.00" y2="406.00" stroke="#333" stroke-width="0.8" />
<line x1="119.00" y1="403.40" x2="119.00" y2="406.00" stroke="#333" stroke-width="0.8" />
<text x="0" y="0" font-size="6.2" text-anchor="middle" fill="#333" font-weight="normal" font-style="normal" transform="translate(90.00,402.30) rotate(0) scale(0.93,1)"  stroke="#333" stroke-width="0.05"><tspan font-style="italic">P</tspan> &lt; .0001</text>
<line x1="61.00" y1="416.70" x2="119.00" y2="416.70" stroke="#2a2a2a" stroke-width="1.0" />
<line x1="61.00" y1="415.40" x2="61.00" y2="418.00" stroke="#333" stroke-width="0.8" />
<line x1="88.00" y1="415.40" x2="88.00" y2="418.00" stroke="#333" stroke-width="0.8" />
<line x1="119.00" y1="415.40" x2="119.00" y2="418.00" stroke="#333" stroke-width="0.8" />
<text x="0" y="0" font-size="6.2" text-anchor="middle" fill="#333" font-weight="normal" font-style="normal" transform="translate(74.50,414.20) rotate(0) scale(0.93,1)"  stroke="#333" stroke-width="0.05"><tspan font-style="italic">P</tspan> = .21</text>
<text x="0" y="0" font-size="6.2" text-anchor="middle" fill="#333" font-weight="normal" font-style="normal" transform="translate(104.00,414.20) rotate(0) scale(0.93,1)"  stroke="#333" stroke-width="0.05"><tspan font-style="italic">P</tspan> = .0055</text>
<rect x="133.6" y="453.6" width="29" height="7.8" fill="none" stroke="#333" stroke-width="0.8"/>
<text x="0" y="0" font-size="6.4" text-anchor="middle" fill="#333" font-weight="normal" font-style="normal" transform="translate(147.90,459.90) rotate(0) scale(0.93,1)"  stroke="#333" stroke-width="0.05"><tspan font-style="italic">P</tspan> &lt; .0001</text>
<text x="138.30" y="15.90" font-size="10" text-anchor="middle" fill="#111" font-weight="bold" font-style="normal" >C</text>
<text x="0" y="0" font-size="8.6" text-anchor="middle" fill="#222" font-weight="normal" font-style="normal" transform="translate(344.00,29.00) rotate(0) scale(0.905,1)"  stroke="#222" stroke-width="0.05">Severe AEs by System in Non-Responders (−CR)</text>
<rect x="202.00" y="72.90" width="6.38" height="10.27" fill="#d7d7ef" />
<rect x="214.67" y="72.90" width="6.38" height="10.27" fill="#afafdd" />
<rect x="221.00" y="72.90" width="6.38" height="10.27" fill="#e2e2f3" />
<rect x="227.33" y="72.90" width="6.38" height="10.27" fill="#e2e2f3" />
<rect x="233.67" y="72.90" width="6.38" height="10.27" fill="#e2e2f3" />
<rect x="240.00" y="72.90" width="6.38" height="10.27" fill="#9493d0" />
<rect x="252.67" y="72.90" width="6.38" height="10.27" fill="#d7d7ef" />
<rect x="265.33" y="72.90" width="6.38" height="10.27" fill="#ececf8" />
<rect x="271.67" y="72.90" width="6.38" height="10.27" fill="#afafdd" />
<rect x="278.00" y="72.90" width="6.38" height="10.27" fill="#f6f6fc" />
<rect x="284.33" y="72.90" width="6.38" height="10.27" fill="#f6f6fc" />
<rect x="290.67" y="72.90" width="6.38" height="10.27" fill="#a0a0d6" />
<rect x="297.00" y="72.90" width="6.38" height="10.27" fill="#a0a0d6" />
<rect x="316.00" y="72.90" width="6.38" height="10.27" fill="#f6f6fc" />
<rect x="341.33" y="72.90" width="6.38" height="10.27" fill="#bebee3" />
<rect x="354.00" y="72.90" width="6.38" height="10.27" fill="#d7d7ef" />
<rect x="360.33" y="72.90" width="6.38" height="10.27" fill="#f6f6fc" />
<rect x="379.33" y="72.90" width="6.38" height="10.27" fill="#e2e2f3" />
<rect x="392.00" y="72.90" width="6.38" height="10.27" fill="#ececf8" />
<rect x="398.33" y="72.90" width="6.38" height="10.27" fill="#ececf8" />
<rect x="404.67" y="72.90" width="6.38" height="10.27" fill="#ececf8" />
<rect x="423.67" y="72.90" width="6.38" height="10.27" fill="#e2e2f3" />
<rect x="436.33" y="72.90" width="6.38" height="10.27" fill="#f6f6fc" />
<rect x="442.67" y="72.90" width="6.38" height="10.27" fill="#f6f6fc" />
<rect x="449.00" y="72.90" width="6.38" height="10.27" fill="#f6f6fc" />
<rect x="455.33" y="72.90" width="6.38" height="10.27" fill="#f6f6fc" />
<rect x="461.67" y="72.90" width="6.38" height="10.27" fill="#f6f6fc" />
<rect x="468.00" y="72.90" width="6.38" height="10.27" fill="#f6f6fc" />
<rect x="474.33" y="72.90" width="6.38" height="10.27" fill="#f6f6fc" />
<rect x="480.67" y="72.90" width="6.38" height="10.27" fill="#f6f6fc" />
<rect x="202.00" y="83.12" width="6.38" height="10.27" fill="#a0a0d6" />
<rect x="208.33" y="83.12" width="6.38" height="10.27" fill="#ececf8" />
<rect x="214.67" y="83.12" width="6.38" height="10.27" fill="#2a228c" />
<rect x="221.00" y="83.12" width="6.38" height="10.27" fill="#2a228c" />
<rect x="233.67" y="83.12" width="6.38" height="10.27" fill="#a0a0d6" />
<rect x="265.33" y="83.12" width="6.38" height="10.27" fill="#f6f6fc" />
<rect x="271.67" y="83.12" width="6.38" height="10.27" fill="#afafdd" />
<rect x="278.00" y="83.12" width="6.38" height="10.27" fill="#6462b8" />
<rect x="284.33" y="83.12" width="6.38" height="10.27" fill="#f6f6fc" />
<rect x="297.00" y="83.12" width="6.38" height="10.27" fill="#a0a0d6" />
<rect x="309.67" y="83.12" width="6.38" height="10.27" fill="#f6f6fc" />
<rect x="335.00" y="83.12" width="6.38" height="10.27" fill="#afafdd" />
<rect x="341.33" y="83.12" width="6.38" height="10.27" fill="#afafdd" />
<rect x="354.00" y="83.12" width="6.38" height="10.27" fill="#afafdd" />
<rect x="360.33" y="83.12" width="6.38" height="10.27" fill="#6462b8" />
<rect x="379.33" y="83.12" width="6.38" height="10.27" fill="#6462b8" />
<rect x="392.00" y="83.12" width="6.38" height="10.27" fill="#393298" />
<rect x="404.67" y="83.12" width="6.38" height="10.27" fill="#bebee3" />
<rect x="411.00" y="83.12" width="6.38" height="10.27" fill="#d7d7ef" />
<rect x="423.67" y="83.12" width="6.38" height="10.27" fill="#e2e2f3" />
<rect x="436.33" y="83.12" width="6.38" height="10.27" fill="#a0a0d6" />
<rect x="442.67" y="83.12" width="6.38" height="10.27" fill="#f6f6fc" />
<rect x="449.00" y="83.12" width="6.38" height="10.27" fill="#f6f6fc" />
<rect x="455.33" y="83.12" width="6.38" height="10.27" fill="#e2e2f3" />
<rect x="461.67" y="83.12" width="6.38" height="10.27" fill="#f6f6fc" />
<rect x="468.00" y="83.12" width="6.38" height="10.27" fill="#ececf8" />
<rect x="480.67" y="83.12" width="6.38" height="10.27" fill="#f6f6fc" />
<rect x="202.00" y="93.35" width="6.38" height="10.27" fill="#a0a0d6" />
<rect x="208.33" y="93.35" width="6.38" height="10.27" fill="#ececf8" />
<rect x="233.67" y="93.35" width="6.38" height="10.27" fill="#a0a0d6" />
<rect x="246.33" y="93.35" width="6.38" height="10.27" fill="#bebee3" />
<rect x="265.33" y="93.35" width="6.38" height="10.27" fill="#f6f6fc" />
<rect x="271.67" y="93.35" width="6.38" height="10.27" fill="#ececf8" />
<rect x="278.00" y="93.35" width="6.38" height="10.27" fill="#ececf8" />
<rect x="284.33" y="93.35" width="6.38" height="10.27" fill="#f6f6fc" />
<rect x="303.33" y="93.35" width="6.38" height="10.27" fill="#ececf8" />
<rect x="309.67" y="93.35" width="6.38" height="10.27" fill="#afafdd" />
<rect x="328.67" y="93.35" width="6.38" height="10.27" fill="#e2e2f3" />
<rect x="347.67" y="93.35" width="6.38" height="10.27" fill="#ececf8" />
<rect x="354.00" y="93.35" width="6.38" height="10.27" fill="#ececf8" />
<rect x="373.00" y="93.35" width="6.38" height="10.27" fill="#f6f6fc" />
<rect x="385.67" y="93.35" width="6.38" height="10.27" fill="#e2e2f3" />
<rect x="392.00" y="93.35" width="6.38" height="10.27" fill="#e2e2f3" />
<rect x="404.67" y="93.35" width="6.38" height="10.27" fill="#bebee3" />
<rect x="411.00" y="93.35" width="6.38" height="10.27" fill="#f6f6fc" />
<rect x="417.33" y="93.35" width="6.38" height="10.27" fill="#f6f6fc" />
<rect x="423.67" y="93.35" width="6.38" height="10.27" fill="#f6f6fc" />
<rect x="430.00" y="93.35" width="6.38" height="10.27" fill="#f6f6fc" />
<rect x="436.33" y="93.35" width="6.38" height="10.27" fill="#cdcdea" />
<rect x="442.67" y="93.35" width="6.38" height="10.27" fill="#cdcdea" />
<rect x="449.00" y="93.35" width="6.38" height="10.27" fill="#cdcdea" />
<rect x="455.33" y="93.35" width="6.38" height="10.27" fill="#bebee3" />
<rect x="461.67" y="93.35" width="6.38" height="10.27" fill="#7a79c4" />
<rect x="474.33" y="93.35" width="6.38" height="10.27" fill="#e2e2f3" />
<rect x="480.67" y="93.35" width="6.38" height="10.27" fill="#e2e2f3" />
<rect x="202.00" y="103.57" width="6.38" height="10.27" fill="#f6f6fc" />
<rect x="208.33" y="103.57" width="6.38" height="10.27" fill="#e2e2f3" />
<rect x="214.67" y="103.57" width="6.38" height="10.27" fill="#9493d0" />
<rect x="221.00" y="103.57" width="6.38" height="10.27" fill="#ececf8" />
<rect x="227.33" y="103.57" width="6.38" height="10.27" fill="#f6f6fc" />
<rect x="233.67" y="103.57" width="6.38" height="10.27" fill="#f6f6fc" />
<rect x="240.00" y="103.57" width="6.38" height="10.27" fill="#f6f6fc" />
<rect x="246.33" y="103.57" width="6.38" height="10.27" fill="#bebee3" />
<rect x="252.67" y="103.57" width="6.38" height="10.27" fill="#6e6cbe" />
<rect x="259.00" y="103.57" width="6.38" height="10.27" fill="#bebee3" />
<rect x="265.33" y="103.57" width="6.38" height="10.27" fill="#bebee3" />
<rect x="271.67" y="103.57" width="6.38" height="10.27" fill="#f6f6fc" />
<rect x="278.00" y="103.57" width="6.38" height="10.27" fill="#e2e2f3" />
<rect x="284.33" y="103.57" width="6.38" height="10.27" fill="#e2e2f3" />
<rect x="290.67" y="103.57" width="6.38" height="10.27" fill="#afafdd" />
<rect x="309.67" y="103.57" width="6.38" height="10.27" fill="#ececf8" />
<rect x="316.00" y="103.57" width="6.38" height="10.27" fill="#ececf8" />
<rect x="322.33" y="103.57" width="6.38" height="10.27" fill="#f6f6fc" />
<rect x="341.33" y="103.57" width="6.38" height="10.27" fill="#bebee3" />
<rect x="379.33" y="103.57" width="6.38" height="10.27" fill="#d7d7ef" />
<rect x="392.00" y="103.57" width="6.38" height="10.27" fill="#e2e2f3" />
<rect x="398.33" y="103.57" width="6.38" height="10.27" fill="#e2e2f3" />
<rect x="417.33" y="103.57" width="6.38" height="10.27" fill="#cdcdea" />
<rect x="436.33" y="103.57" width="6.38" height="10.27" fill="#d7d7ef" />
<rect x="455.33" y="103.57" width="6.38" height="10.27" fill="#ececf8" />
<rect x="461.67" y="103.57" width="6.38" height="10.27" fill="#ececf8" />
<rect x="221.00" y="113.79" width="6.38" height="10.27" fill="#ececf8" />
<rect x="233.67" y="113.79" width="6.38" height="10.27" fill="#f6f6fc" />
<rect x="240.00" y="113.79" width="6.38" height="10.27" fill="#ececf8" />
<rect x="259.00" y="113.79" width="6.38" height="10.27" fill="#ececf8" />
<rect x="278.00" y="113.79" width="6.38" height="10.27" fill="#e2e2f3" />
<rect x="290.67" y="113.79" width="6.38" height="10.27" fill="#f6f6fc" />
<rect x="297.00" y="113.79" width="6.38" height="10.27" fill="#f6f6fc" />
<rect x="316.00" y="113.79" width="6.38" height="10.27" fill="#ececf8" />
<rect x="373.00" y="113.79" width="6.38" height="10.27" fill="#cdcdea" />
<rect x="392.00" y="113.79" width="6.38" height="10.27" fill="#ececf8" />
<rect x="398.33" y="113.79" width="6.38" height="10.27" fill="#ececf8" />
<rect x="411.00" y="113.79" width="6.38" height="10.27" fill="#d7d7ef" />
<rect x="208.33" y="124.02" width="6.38" height="10.27" fill="#f6f6fc" />
<rect x="221.00" y="124.02" width="6.38" height="10.27" fill="#e2e2f3" />
<rect x="227.33" y="124.02" width="6.38" height="10.27" fill="#e2e2f3" />
<rect x="233.67" y="124.02" width="6.38" height="10.27" fill="#e2e2f3" />
<rect x="240.00" y="124.02" width="6.38" height="10.27" fill="#ececf8" />
<rect x="252.67" y="124.02" width="6.38" height="10.27" fill="#bebee3" />
<rect x="265.33" y="124.02" width="6.38" height="10.27" fill="#cdcdea" />
<rect x="271.67" y="124.02" width="6.38" height="10.27" fill="#f6f6fc" />
<rect x="278.00" y="124.02" width="6.38" height="10.27" fill="#f6f6fc" />
<rect x="284.33" y="124.02" width="6.38" height="10.27" fill="#f6f6fc" />
<rect x="290.67" y="124.02" width="6.38" height="10.27" fill="#f6f6fc" />
<rect x="297.00" y="124.02" width="6.38" height="10.27" fill="#f6f6fc" />
<rect x="322.33" y="124.02" width="6.38" height="10.27" fill="#e2e2f3" />
<rect x="366.67" y="124.02" width="6.38" height="10.27" fill="#cdcdea" />
<rect x="392.00" y="124.02" width="6.38" height="10.27" fill="#f6f6fc" />
<rect x="398.33" y="124.02" width="6.38" height="10.27" fill="#bebee3" />
<rect x="411.00" y="124.02" width="6.38" height="10.27" fill="#ececf8" />
<rect x="436.33" y="124.02" width="6.38" height="10.27" fill="#e2e2f3" />
<rect x="442.67" y="124.02" width="6.38" height="10.27" fill="#e2e2f3" />
<rect x="240.00" y="134.24" width="6.38" height="10.27" fill="#f6f6fc" />
<rect x="246.33" y="134.24" width="6.38" height="10.27" fill="#f6f6fc" />
<rect x="265.33" y="134.24" width="6.38" height="10.27" fill="#ececf8" />
<rect x="271.67" y="134.24" width="6.38" height="10.27" fill="#f6f6fc" />
<rect x="278.00" y="134.24" width="6.38" height="10.27" fill="#f6f6fc" />
<rect x="284.33" y="134.24" width="6.38" height="10.27" fill="#f6f6fc" />
<rect x="290.67" y="134.24" width="6.38" height="10.27" fill="#f6f6fc" />
<rect x="297.00" y="134.24" width="6.38" height="10.27" fill="#f6f6fc" />
<rect x="316.00" y="134.24" width="6.38" height="10.27" fill="#ececf8" />
<rect x="259.00" y="144.46" width="6.38" height="10.27" fill="#f6f6fc" />
<rect x="265.33" y="144.46" width="6.38" height="10.27" fill="#cdcdea" />
<rect x="284.33" y="144.46" width="6.38" height="10.27" fill="#ececf8" />
<rect x="290.67" y="144.46" width="6.38" height="10.27" fill="#ececf8" />
<rect x="417.33" y="144.46" width="6.38" height="10.27" fill="#f6f6fc" />
<rect x="423.67" y="144.46" width="6.38" height="10.27" fill="#ececf8" />
<rect x="246.33" y="154.69" width="6.38" height="10.27" fill="#cdcdea" />
<rect x="265.33" y="154.69" width="6.38" height="10.27" fill="#e2e2f3" />
<rect x="417.33" y="154.69" width="6.38" height="10.27" fill="#f6f6fc" />
<rect x="423.67" y="154.69" width="6.38" height="10.27" fill="#ececf8" />
<rect x="246.33" y="164.91" width="6.38" height="10.27" fill="#f6f6fc" />
<rect x="290.67" y="164.91" width="6.38" height="10.27" fill="#bebee3" />
<rect x="265.33" y="175.14" width="6.38" height="10.27" fill="#d7d7ef" />
<rect x="366.67" y="175.14" width="6.38" height="10.27" fill="#f6f6fc" />
<rect x="398.33" y="175.14" width="6.38" height="10.27" fill="#f6f6fc" />
<rect x="208.33" y="195.58" width="6.38" height="10.27" fill="#ececf8" />
<rect x="227.33" y="195.58" width="6.38" height="10.27" fill="#ececf8" />
<rect x="233.67" y="195.58" width="6.38" height="10.27" fill="#ececf8" />
<rect x="246.33" y="195.58" width="6.38" height="10.27" fill="#ececf8" />
<rect x="379.33" y="195.58" width="6.38" height="10.27" fill="#ececf8" />
<rect x="398.33" y="195.58" width="6.38" height="10.27" fill="#f6f6fc" />
<rect x="379.33" y="205.81" width="6.38" height="10.27" fill="#f6f6fc" />
<rect x="202.00" y="72.90" width="285.00" height="173.80" fill="none" stroke="#222" stroke-width="1"/>
<line x1="309.67" y1="73.90" x2="309.67" y2="246.70" stroke="#222" stroke-width="1.2" stroke-dasharray="3.1,1.9"/>
<line x1="205.17" y1="70.00" x2="205.17" y2="72.90" stroke="#222" stroke-width="0.7" />
<text x="0" y="0" font-size="6.6" fill="#222" transform="translate(206.67,67.4) rotate(-90) scale(1,0.92)">CD1906</text>
<line x1="211.50" y1="70.00" x2="211.50" y2="72.90" stroke="#222" stroke-width="0.7" />
<text x="0" y="0" font-size="6.6" fill="#222" transform="translate(213.00,67.4) rotate(-90) scale(1,0.92)">CD1935</text>
<line x1="217.83" y1="70.00" x2="217.83" y2="72.90" stroke="#222" stroke-width="0.7" />
<text x="0" y="0" font-size="6.6" fill="#222" transform="translate(219.33,67.4) rotate(-90) scale(1,0.92)">CD1938</text>
<line x1="224.17" y1="70.00" x2="224.17" y2="72.90" stroke="#222" stroke-width="0.7" />
<text x="0" y="0" font-size="6.6" fill="#222" transform="translate(225.67,67.4) rotate(-90) scale(1,0.92)">CD1941</text>
<line x1="230.50" y1="70.00" x2="230.50" y2="72.90" stroke="#222" stroke-width="0.7" />
<text x="0" y="0" font-size="6.6" fill="#222" transform="translate(232.00,67.4) rotate(-90) scale(1,0.92)">CD1943</text>
<line x1="236.83" y1="70.00" x2="236.83" y2="72.90" stroke="#222" stroke-width="0.7" />
<text x="0" y="0" font-size="6.6" fill="#222" transform="translate(238.33,67.4) rotate(-90) scale(1,0.92)">CD2203</text>
<line x1="243.17" y1="70.00" x2="243.17" y2="72.90" stroke="#222" stroke-width="0.7" />
<text x="0" y="0" font-size="6.6" fill="#222" transform="translate(244.67,67.4) rotate(-90) scale(1,0.92)">CD2204</text>
<line x1="249.50" y1="70.00" x2="249.50" y2="72.90" stroke="#222" stroke-width="0.7" />
<text x="0" y="0" font-size="6.6" fill="#222" transform="translate(251.00,67.4) rotate(-90) scale(1,0.92)">CD2210</text>
<line x1="255.83" y1="70.00" x2="255.83" y2="72.90" stroke="#222" stroke-width="0.7" />
<text x="0" y="0" font-size="6.6" fill="#222" transform="translate(257.33,67.4) rotate(-90) scale(1,0.92)">CD2219</text>
<line x1="262.17" y1="70.00" x2="262.17" y2="72.90" stroke="#222" stroke-width="0.7" />
<text x="0" y="0" font-size="6.6" fill="#222" transform="translate(263.67,67.4) rotate(-90) scale(1,0.92)">CD2241</text>
<line x1="268.50" y1="70.00" x2="268.50" y2="72.90" stroke="#222" stroke-width="0.7" />
<text x="0" y="0" font-size="6.6" fill="#222" transform="translate(270.00,67.4) rotate(-90) scale(1,0.92)">CD2242</text>
<line x1="274.83" y1="70.00" x2="274.83" y2="72.90" stroke="#222" stroke-width="0.7" />
<text x="0" y="0" font-size="6.6" fill="#222" transform="translate(276.33,67.4) rotate(-90) scale(1,0.92)">CD2245</text>
<line x1="281.17" y1="70.00" x2="281.17" y2="72.90" stroke="#222" stroke-width="0.7" />
<text x="0" y="0" font-size="6.6" fill="#222" transform="translate(282.67,67.4) rotate(-90) scale(1,0.92)">CD2257</text>
<line x1="287.50" y1="70.00" x2="287.50" y2="72.90" stroke="#222" stroke-width="0.7" />
<text x="0" y="0" font-size="6.6" fill="#222" transform="translate(289.00,67.4) rotate(-90) scale(1,0.92)">CD2274</text>
<line x1="293.83" y1="70.00" x2="293.83" y2="72.90" stroke="#222" stroke-width="0.7" />
<text x="0" y="0" font-size="6.6" fill="#222" transform="translate(295.33,67.4) rotate(-90) scale(1,0.92)">CD2277</text>
<line x1="300.17" y1="70.00" x2="300.17" y2="72.90" stroke="#222" stroke-width="0.7" />
<text x="0" y="0" font-size="6.6" fill="#222" transform="translate(301.67,67.4) rotate(-90) scale(1,0.92)">CD192202</text>
<line x1="306.50" y1="70.00" x2="306.50" y2="72.90" stroke="#222" stroke-width="0.7" />
<text x="0" y="0" font-size="6.6" fill="#222" transform="translate(308.00,67.4) rotate(-90) scale(1,0.92)">CD192212</text>
<line x1="312.83" y1="70.00" x2="312.83" y2="72.90" stroke="#222" stroke-width="0.7" />
<text x="0" y="0" font-size="6.6" fill="#222" transform="translate(314.33,67.4) rotate(-90) scale(1,0.92)">CD1902</text>
<line x1="319.17" y1="70.00" x2="319.17" y2="72.90" stroke="#222" stroke-width="0.7" />
<text x="0" y="0" font-size="6.6" fill="#222" transform="translate(320.67,67.4) rotate(-90) scale(1,0.92)">CD1912</text>
<line x1="325.50" y1="70.00" x2="325.50" y2="72.90" stroke="#222" stroke-width="0.7" />
<text x="0" y="0" font-size="6.6" fill="#222" transform="translate(327.00,67.4) rotate(-90) scale(1,0.92)">CD1913</text>
<line x1="331.83" y1="70.00" x2="331.83" y2="72.90" stroke="#222" stroke-width="0.7" />
<text x="0" y="0" font-size="6.6" fill="#222" transform="translate(333.33,67.4) rotate(-90) scale(1,0.92)">CD1915</text>
<line x1="338.17" y1="70.00" x2="338.17" y2="72.90" stroke="#222" stroke-width="0.7" />
<text x="0" y="0" font-size="6.6" fill="#222" transform="translate(339.67,67.4) rotate(-90) scale(1,0.92)">CD1918</text>
<line x1="344.50" y1="70.00" x2="344.50" y2="72.90" stroke="#222" stroke-width="0.7" />
<text x="0" y="0" font-size="6.6" fill="#222" transform="translate(346.00,67.4) rotate(-90) scale(1,0.92)">CD1923</text>
<line x1="350.83" y1="70.00" x2="350.83" y2="72.90" stroke="#222" stroke-width="0.7" />
<text x="0" y="0" font-size="6.6" fill="#222" transform="translate(352.33,67.4) rotate(-90) scale(1,0.92)">CD1926</text>
<line x1="357.17" y1="70.00" x2="357.17" y2="72.90" stroke="#222" stroke-width="0.7" />
<text x="0" y="0" font-size="6.6" fill="#222" transform="translate(358.67,67.4) rotate(-90) scale(1,0.92)">CD1927</text>
<line x1="363.50" y1="70.00" x2="363.50" y2="72.90" stroke="#222" stroke-width="0.7" />
<text x="0" y="0" font-size="6.6" fill="#222" transform="translate(365.00,67.4) rotate(-90) scale(1,0.92)">CD1928</text>
<line x1="369.83" y1="70.00" x2="369.83" y2="72.90" stroke="#222" stroke-width="0.7" />
<text x="0" y="0" font-size="6.6" fill="#222" transform="translate(371.33,67.4) rotate(-90) scale(1,0.92)">CD1931</text>
<line x1="376.17" y1="70.00" x2="376.17" y2="72.90" stroke="#222" stroke-width="0.7" />
<text x="0" y="0" font-size="6.6" fill="#222" transform="translate(377.67,67.4) rotate(-90) scale(1,0.92)">CD1936</text>
<line x1="382.50" y1="70.00" x2="382.50" y2="72.90" stroke="#222" stroke-width="0.7" />
<text x="0" y="0" font-size="6.6" fill="#222" transform="translate(384.00,67.4) rotate(-90) scale(1,0.92)">CD1937</text>
<line x1="388.83" y1="70.00" x2="388.83" y2="72.90" stroke="#222" stroke-width="0.7" />
<text x="0" y="0" font-size="6.6" fill="#222" transform="translate(390.33,67.4) rotate(-90) scale(1,0.92)">CD1940</text>
<line x1="395.17" y1="70.00" x2="395.17" y2="72.90" stroke="#222" stroke-width="0.7" />
<text x="0" y="0" font-size="6.6" fill="#222" transform="translate(396.67,67.4) rotate(-90) scale(1,0.92)">CD1950</text>
<line x1="401.50" y1="70.00" x2="401.50" y2="72.90" stroke="#222" stroke-width="0.7" />
<text x="0" y="0" font-size="6.6" fill="#222" transform="translate(403.00,67.4) rotate(-90) scale(1,0.92)">CD2201</text>
<line x1="407.83" y1="70.00" x2="407.83" y2="72.90" stroke="#222" stroke-width="0.7" />
<text x="0" y="0" font-size="6.6" fill="#222" transform="translate(409.33,67.4) rotate(-90) scale(1,0.92)">CD2205</text>
<line x1="414.17" y1="70.00" x2="414.17" y2="72.90" stroke="#222" stroke-width="0.7" />
<text x="0" y="0" font-size="6.6" fill="#222" transform="translate(415.67,67.4) rotate(-90) scale(1,0.92)">CD2206</text>
<line x1="420.50" y1="70.00" x2="420.50" y2="72.90" stroke="#222" stroke-width="0.7" />
<text x="0" y="0" font-size="6.6" fill="#222" transform="translate(422.00,67.4) rotate(-90) scale(1,0.92)">CD2213</text>
<line x1="426.83" y1="70.00" x2="426.83" y2="72.90" stroke="#222" stroke-width="0.7" />
<text x="0" y="0" font-size="6.6" fill="#222" transform="translate(428.33,67.4) rotate(-90) scale(1,0.92)">CD2220</text>
<line x1="433.17" y1="70.00" x2="433.17" y2="72.90" stroke="#222" stroke-width="0.7" />
<text x="0" y="0" font-size="6.6" fill="#222" transform="translate(434.67,67.4) rotate(-90) scale(1,0.92)">CD2229</text>
<line x1="439.50" y1="70.00" x2="439.50" y2="72.90" stroke="#222" stroke-width="0.7" />
<text x="0" y="0" font-size="6.6" fill="#222" transform="translate(441.00,67.4) rotate(-90) scale(1,0.92)">CD2259</text>
<line x1="445.83" y1="70.00" x2="445.83" y2="72.90" stroke="#222" stroke-width="0.7" />
<text x="0" y="0" font-size="6.6" fill="#222" transform="translate(447.33,67.4) rotate(-90) scale(1,0.92)">CD2262</text>
<line x1="452.17" y1="70.00" x2="452.17" y2="72.90" stroke="#222" stroke-width="0.7" />
<text x="0" y="0" font-size="6.6" fill="#222" transform="translate(453.67,67.4) rotate(-90) scale(1,0.92)">CD192201</text>
<line x1="458.50" y1="70.00" x2="458.50" y2="72.90" stroke="#222" stroke-width="0.7" />
<text x="0" y="0" font-size="6.6" fill="#222" transform="translate(460.00,67.4) rotate(-90) scale(1,0.92)">CD192203</text>
<line x1="464.83" y1="70.00" x2="464.83" y2="72.90" stroke="#222" stroke-width="0.7" />
<text x="0" y="0" font-size="6.6" fill="#222" transform="translate(466.33,67.4) rotate(-90) scale(1,0.92)">CD192204</text>
<line x1="471.17" y1="70.00" x2="471.17" y2="72.90" stroke="#222" stroke-width="0.7" />
<text x="0" y="0" font-size="6.6" fill="#222" transform="translate(472.67,67.4) rotate(-90) scale(1,0.92)">CD192207</text>
<line x1="477.50" y1="70.00" x2="477.50" y2="72.90" stroke="#222" stroke-width="0.7" />
<text x="0" y="0" font-size="6.6" fill="#222" transform="translate(479.00,67.4) rotate(-90) scale(1,0.92)">CD192208</text>
<line x1="483.83" y1="70.00" x2="483.83" y2="72.90" stroke="#222" stroke-width="0.7" />
<text x="0" y="0" font-size="6.6" fill="#222" transform="translate(485.33,67.4) rotate(-90) scale(1,0.92)">CD192215</text>
<line x1="198.20" y1="78.01" x2="202.00" y2="78.01" stroke="#222" stroke-width="0.9" />
<text x="0" y="0" font-size="6.2" text-anchor="end" fill="#222" font-weight="normal" font-style="normal" transform="translate(196.30,80.21) rotate(0) scale(0.96,1)"  stroke="#222" stroke-width="0.05">Anemia</text>
<line x1="198.20" y1="88.24" x2="202.00" y2="88.24" stroke="#222" stroke-width="0.9" />
<text x="0" y="0" font-size="6.2" text-anchor="end" fill="#222" font-weight="normal" font-style="normal" transform="translate(196.30,90.44) rotate(0) scale(0.96,1)"  stroke="#222" stroke-width="0.05">Thrombocytopenia</text>
<line x1="198.20" y1="98.46" x2="202.00" y2="98.46" stroke="#222" stroke-width="0.9" />
<text x="0" y="0" font-size="6.2" text-anchor="end" fill="#222" font-weight="normal" font-style="normal" transform="translate(196.30,100.66) rotate(0) scale(0.96,1)"  stroke="#222" stroke-width="0.05">Neutropenia</text>
<line x1="198.20" y1="108.68" x2="202.00" y2="108.68" stroke="#222" stroke-width="0.9" />
<text x="0" y="0" font-size="6.2" text-anchor="end" fill="#222" font-weight="normal" font-style="normal" transform="translate(196.30,110.88) rotate(0) scale(0.96,1)"  stroke="#222" stroke-width="0.05">Metabolic</text>
<line x1="198.20" y1="118.91" x2="202.00" y2="118.91" stroke="#222" stroke-width="0.9" />
<text x="0" y="0" font-size="6.2" text-anchor="end" fill="#222" font-weight="normal" font-style="normal" transform="translate(196.30,121.11) rotate(0) scale(0.96,1)"  stroke="#222" stroke-width="0.05">Hepatic</text>
<line x1="198.20" y1="129.13" x2="202.00" y2="129.13" stroke="#222" stroke-width="0.9" />
<text x="0" y="0" font-size="6.2" text-anchor="end" fill="#222" font-weight="normal" font-style="normal" transform="translate(196.30,131.33) rotate(0) scale(0.96,1)"  stroke="#222" stroke-width="0.05">Febrile Neutropenia</text>
<line x1="198.20" y1="139.35" x2="202.00" y2="139.35" stroke="#222" stroke-width="0.9" />
<text x="0" y="0" font-size="6.2" text-anchor="end" fill="#222" font-weight="normal" font-style="normal" transform="translate(196.30,141.55) rotate(0) scale(0.96,1)"  stroke="#222" stroke-width="0.05">Cardiovascular</text>
<line x1="198.20" y1="149.58" x2="202.00" y2="149.58" stroke="#222" stroke-width="0.9" />
<text x="0" y="0" font-size="6.2" text-anchor="end" fill="#222" font-weight="normal" font-style="normal" transform="translate(196.30,151.78) rotate(0) scale(0.96,1)"  stroke="#222" stroke-width="0.05">Coagulopathy</text>
<line x1="198.20" y1="159.80" x2="202.00" y2="159.80" stroke="#222" stroke-width="0.9" />
<text x="0" y="0" font-size="6.2" text-anchor="end" fill="#222" font-weight="normal" font-style="normal" transform="translate(196.30,162.00) rotate(0) scale(0.96,1)"  stroke="#222" stroke-width="0.05">Respiratory</text>
<line x1="198.20" y1="170.02" x2="202.00" y2="170.02" stroke="#222" stroke-width="0.9" />
<text x="0" y="0" font-size="6.2" text-anchor="end" fill="#222" font-weight="normal" font-style="normal" transform="translate(196.30,172.22) rotate(0) scale(0.96,1)"  stroke="#222" stroke-width="0.05">GI</text>
<line x1="198.20" y1="180.25" x2="202.00" y2="180.25" stroke="#222" stroke-width="0.9" />
<text x="0" y="0" font-size="6.2" text-anchor="end" fill="#222" font-weight="normal" font-style="normal" transform="translate(196.30,182.45) rotate(0) scale(0.96,1)"  stroke="#222" stroke-width="0.05">Infection</text>
<line x1="198.20" y1="190.47" x2="202.00" y2="190.47" stroke="#222" stroke-width="0.9" />
<text x="0" y="0" font-size="6.2" text-anchor="end" fill="#222" font-weight="normal" font-style="normal" transform="translate(196.30,192.67) rotate(0) scale(0.96,1)"  stroke="#222" stroke-width="0.05">Renal</text>
<line x1="198.20" y1="200.69" x2="202.00" y2="200.69" stroke="#222" stroke-width="0.9" />
<text x="0" y="0" font-size="6.2" text-anchor="end" fill="#222" font-weight="normal" font-style="normal" transform="translate(196.30,202.89) rotate(0) scale(0.96,1)"  stroke="#222" stroke-width="0.05">Pain</text>
<line x1="198.20" y1="210.92" x2="202.00" y2="210.92" stroke="#222" stroke-width="0.9" />
<text x="0" y="0" font-size="6.2" text-anchor="end" fill="#222" font-weight="normal" font-style="normal" transform="translate(196.30,213.12) rotate(0) scale(0.96,1)"  stroke="#222" stroke-width="0.05">Neurologic</text>
<line x1="198.20" y1="221.14" x2="202.00" y2="221.14" stroke="#222" stroke-width="0.9" />
<text x="0" y="0" font-size="6.2" text-anchor="end" fill="#222" font-weight="normal" font-style="normal" transform="translate(196.30,223.34) rotate(0) scale(0.96,1)"  stroke="#222" stroke-width="0.05">Immunologic</text>
<line x1="198.20" y1="231.36" x2="202.00" y2="231.36" stroke="#222" stroke-width="0.9" />
<text x="0" y="0" font-size="6.2" text-anchor="end" fill="#222" font-weight="normal" font-style="normal" transform="translate(196.30,233.56) rotate(0) scale(0.96,1)"  stroke="#222" stroke-width="0.05">Psychiatric</text>
<line x1="198.20" y1="241.59" x2="202.00" y2="241.59" stroke="#222" stroke-width="0.9" />
<text x="0" y="0" font-size="6.2" text-anchor="end" fill="#222" font-weight="normal" font-style="normal" transform="translate(196.30,243.79) rotate(0) scale(0.96,1)"  stroke="#222" stroke-width="0.05">Musculoskeletal</text>
<path d="M203.00,250.70 L203.00,254.00 Q203.00,255.20 204.20,255.20 L254.83,255.20 Q256.03,255.20 256.03,256.40 L256.03,259.00 M256.03,256.40 Q256.03,255.20 257.23,255.20 L307.87,255.20 Q309.07,255.20 309.07,254.00 L309.07,250.70" fill="none" stroke="#2a2a2a" stroke-width="0.9"/>
<text x="256.03" y="267.80" font-size="6.0" text-anchor="middle" fill="#222" font-weight="normal" font-style="normal"  stroke="#222" stroke-width="0.05">+CRS</text>
<path d="M310.47,250.70 L310.47,254.00 Q310.47,255.20 311.67,255.20 L397.03,255.20 Q398.23,255.20 398.23,256.40 L398.23,259.00 M398.23,256.40 Q398.23,255.20 399.43,255.20 L484.80,255.20 Q486.00,255.20 486.00,254.00 L486.00,250.70" fill="none" stroke="#2a2a2a" stroke-width="0.9"/>
<text x="398.23" y="267.80" font-size="6.0" text-anchor="middle" fill="#222" font-weight="normal" font-style="normal"  stroke="#222" stroke-width="0.05">−CRS</text>
<defs><linearGradient id="cb" x1="0" y1="1" x2="0" y2="0"><stop offset="0" stop-color="#ffffff"/><stop offset="0.25" stop-color="#c8cbe8"/><stop offset="0.5" stop-color="#8e95cc"/><stop offset="0.75" stop-color="#5763ad"/><stop offset="1" stop-color="#26398c"/></linearGradient></defs>
<rect x="495.2" y="72.6" width="9.00" height="174.00" fill="url(#cb)" stroke="#333" stroke-width="0.8"/>
<line x1="502.70" y1="246.60" x2="504.20" y2="246.60" stroke="#333" stroke-width="0.6" />
<text x="507.00" y="248.60" font-size="5.6" text-anchor="start" fill="#333" font-weight="normal" font-style="normal"  stroke="#333" stroke-width="0.05">0</text>
<line x1="502.70" y1="203.10" x2="504.20" y2="203.10" stroke="#333" stroke-width="0.6" />
<text x="507.00" y="205.10" font-size="5.6" text-anchor="start" fill="#333" font-weight="normal" font-style="normal"  stroke="#333" stroke-width="0.05">5</text>
<line x1="502.70" y1="159.60" x2="504.20" y2="159.60" stroke="#333" stroke-width="0.6" />
<text x="507.00" y="161.60" font-size="5.6" text-anchor="start" fill="#333" font-weight="normal" font-style="normal"  stroke="#333" stroke-width="0.05">10</text>
<line x1="502.70" y1="116.10" x2="504.20" y2="116.10" stroke="#333" stroke-width="0.6" />
<text x="507.00" y="118.10" font-size="5.6" text-anchor="start" fill="#333" font-weight="normal" font-style="normal"  stroke="#333" stroke-width="0.05">15</text>
<line x1="502.70" y1="72.60" x2="504.20" y2="72.60" stroke="#333" stroke-width="0.6" />
<text x="507.00" y="74.60" font-size="5.6" text-anchor="start" fill="#333" font-weight="normal" font-style="normal"  stroke="#333" stroke-width="0.05">20</text>
<text x="195.50" y="291.00" font-size="10" text-anchor="middle" fill="#111" font-weight="bold" font-style="normal" >E</text>
<text x="0" y="0" font-size="8.4" text-anchor="start" fill="#222" font-weight="normal" font-style="normal" transform="translate(229.00,304.00) rotate(0) scale(0.945,1)"  stroke="#222" stroke-width="0.05">≥Gr3 NC AEs by Disease Burden, CR and CRS</text>
<line x1="226.50" y1="309.50" x2="226.50" y2="473.50" stroke="#1a1a1a" stroke-width="1.25" />
<line x1="223.70" y1="473.50" x2="226.50" y2="473.50" stroke="#1a1a1a" stroke-width="1.0" />
<line x1="225.50" y1="468.03" x2="226.50" y2="468.03" stroke="#1a1a1a" stroke-width="0.6" />
<line x1="225.50" y1="462.57" x2="226.50" y2="462.57" stroke="#1a1a1a" stroke-width="0.6" />
<line x1="225.50" y1="457.10" x2="226.50" y2="457.10" stroke="#1a1a1a" stroke-width="0.6" />
<line x1="225.50" y1="451.63" x2="226.50" y2="451.63" stroke="#1a1a1a" stroke-width="0.6" />
<line x1="225.50" y1="446.17" x2="226.50" y2="446.17" stroke="#1a1a1a" stroke-width="0.6" />
<line x1="225.50" y1="440.70" x2="226.50" y2="440.70" stroke="#1a1a1a" stroke-width="0.6" />
<line x1="225.50" y1="435.23" x2="226.50" y2="435.23" stroke="#1a1a1a" stroke-width="0.6" />
<line x1="225.50" y1="429.77" x2="226.50" y2="429.77" stroke="#1a1a1a" stroke-width="0.6" />
<line x1="225.50" y1="424.30" x2="226.50" y2="424.30" stroke="#1a1a1a" stroke-width="0.6" />
<line x1="223.70" y1="418.83" x2="226.50" y2="418.83" stroke="#1a1a1a" stroke-width="1.0" />
<line x1="225.50" y1="413.37" x2="226.50" y2="413.37" stroke="#1a1a1a" stroke-width="0.6" />
<line x1="225.50" y1="407.90" x2="226.50" y2="407.90" stroke="#1a1a1a" stroke-width="0.6" />
<line x1="225.50" y1="402.43" x2="226.50" y2="402.43" stroke="#1a1a1a" stroke-width="0.6" />
<line x1="225.50" y1="396.97" x2="226.50" y2="396.97" stroke="#1a1a1a" stroke-width="0.6" />
<line x1="225.50" y1="391.50" x2="226.50" y2="391.50" stroke="#1a1a1a" stroke-width="0.6" />
<line x1="225.50" y1="386.03" x2="226.50" y2="386.03" stroke="#1a1a1a" stroke-width="0.6" />
<line x1="225.50" y1="380.57" x2="226.50" y2="380.57" stroke="#1a1a1a" stroke-width="0.6" />
<line x1="225.50" y1="375.10" x2="226.50" y2="375.10" stroke="#1a1a1a" stroke-width="0.6" />
<line x1="225.50" y1="369.63" x2="226.50" y2="369.63" stroke="#1a1a1a" stroke-width="0.6" />
<line x1="223.70" y1="364.17" x2="226.50" y2="364.17" stroke="#1a1a1a" stroke-width="1.0" />
<line x1="225.50" y1="358.70" x2="226.50" y2="358.70" stroke="#1a1a1a" stroke-width="0.6" />
<line x1="225.50" y1="353.23" x2="226.50" y2="353.23" stroke="#1a1a1a" stroke-width="0.6" />
<line x1="225.50" y1="347.77" x2="226.50" y2="347.77" stroke="#1a1a1a" stroke-width="0.6" />
<line x1="225.50" y1="342.30" x2="226.50" y2="342.30" stroke="#1a1a1a" stroke-width="0.6" />
<line x1="225.50" y1="336.83" x2="226.50" y2="336.83" stroke="#1a1a1a" stroke-width="0.6" />
<line x1="225.50" y1="331.37" x2="226.50" y2="331.37" stroke="#1a1a1a" stroke-width="0.6" />
<line x1="225.50" y1="325.90" x2="226.50" y2="325.90" stroke="#1a1a1a" stroke-width="0.6" />
<line x1="225.50" y1="320.43" x2="226.50" y2="320.43" stroke="#1a1a1a" stroke-width="0.6" />
<line x1="225.50" y1="314.97" x2="226.50" y2="314.97" stroke="#1a1a1a" stroke-width="0.6" />
<line x1="223.70" y1="309.50" x2="226.50" y2="309.50" stroke="#1a1a1a" stroke-width="1.0" />
<text x="220.50" y="475.80" font-size="6.4" text-anchor="end" fill="#555" font-weight="normal" font-style="normal"  stroke="#555" stroke-width="0.05">0</text>
<text x="220.50" y="421.14" font-size="6.4" text-anchor="end" fill="#555" font-weight="normal" font-style="normal"  stroke="#555" stroke-width="0.05">20</text>
<text x="220.50" y="366.47" font-size="6.4" text-anchor="end" fill="#555" font-weight="normal" font-style="normal"  stroke="#555" stroke-width="0.05">40</text>
<text x="220.50" y="311.80" font-size="6.4" text-anchor="end" fill="#555" font-weight="normal" font-style="normal"  stroke="#555" stroke-width="0.05">60</text>
<line x1="223.90" y1="309.50" x2="399.50" y2="309.50" stroke="#1a1a1a" stroke-width="1.1" />
<line x1="399.50" y1="309.50" x2="399.50" y2="473.50" stroke="#2a2a2a" stroke-width="1.1" />
<line x1="226.50" y1="473.50" x2="399.50" y2="473.50" stroke="#1a1a1a" stroke-width="1.2" />
<line x1="268.50" y1="309.50" x2="268.50" y2="473.50" stroke="#878787" stroke-width="1.0" />
<line x1="313.00" y1="309.50" x2="313.00" y2="473.50" stroke="#878787" stroke-width="1.3" />
<line x1="357.50" y1="309.50" x2="357.50" y2="473.50" stroke="#878787" stroke-width="1.0" />
<circle cx="277.80" cy="472.90" r="1.3" fill="#e8a624" stroke="#a87410" stroke-width="0.45"/>
<circle cx="285.00" cy="470.71" r="1.3" fill="#e8a624" stroke="#a87410" stroke-width="0.45"/>
<line x1="237.50" y1="473.50" x2="237.50" y2="475.30" stroke="#222" stroke-width="0.7" />
<circle cx="233.45" cy="472.90" r="1.3" fill="#18457a" stroke="#081a36" stroke-width="0.45"/>
<circle cx="236.15" cy="472.90" r="1.3" fill="#18457a" stroke="#081a36" stroke-width="0.45"/>
<circle cx="238.85" cy="472.90" r="1.3" fill="#18457a" stroke="#081a36" stroke-width="0.45"/>
<circle cx="241.55" cy="472.90" r="1.3" fill="#18457a" stroke="#081a36" stroke-width="0.45"/>
<circle cx="233.45" cy="470.17" r="1.3" fill="#18457a" stroke="#081a36" stroke-width="0.45"/>
<circle cx="236.15" cy="470.17" r="1.3" fill="#18457a" stroke="#081a36" stroke-width="0.45"/>
<circle cx="238.85" cy="470.17" r="1.3" fill="#18457a" stroke="#081a36" stroke-width="0.45"/>
<circle cx="241.55" cy="470.17" r="1.3" fill="#18457a" stroke="#081a36" stroke-width="0.45"/>
<circle cx="234.80" cy="467.43" r="1.3" fill="#18457a" stroke="#081a36" stroke-width="0.45"/>
<circle cx="237.50" cy="467.43" r="1.3" fill="#18457a" stroke="#081a36" stroke-width="0.45"/>
<circle cx="240.20" cy="467.43" r="1.3" fill="#18457a" stroke="#081a36" stroke-width="0.45"/>
<circle cx="236.15" cy="464.70" r="1.3" fill="#18457a" stroke="#081a36" stroke-width="0.45"/>
<circle cx="238.85" cy="464.70" r="1.3" fill="#18457a" stroke="#081a36" stroke-width="0.45"/>
<circle cx="236.15" cy="461.97" r="1.3" fill="#18457a" stroke="#081a36" stroke-width="0.45"/>
<circle cx="238.85" cy="461.97" r="1.3" fill="#18457a" stroke="#081a36" stroke-width="0.45"/>
<circle cx="237.50" cy="456.50" r="1.3" fill="#18457a" stroke="#081a36" stroke-width="0.45"/>
<circle cx="237.50" cy="453.77" r="1.3" fill="#18457a" stroke="#081a36" stroke-width="0.45"/>
<circle cx="237.50" cy="448.30" r="1.3" fill="#18457a" stroke="#081a36" stroke-width="0.45"/>
<circle cx="237.50" cy="442.83" r="1.3" fill="#18457a" stroke="#081a36" stroke-width="0.45"/>
<circle cx="237.50" cy="434.63" r="1.3" fill="#18457a" stroke="#081a36" stroke-width="0.45"/>
<line x1="232.00" y1="470.77" x2="243.00" y2="470.77" stroke="#111" stroke-width="0.9" />
<text x="237.50" y="485.00" font-size="6.0" text-anchor="middle" fill="#222" font-weight="normal" font-style="normal"  stroke="#222" stroke-width="0.05">M1</text>
<line x1="254.40" y1="473.50" x2="254.40" y2="475.30" stroke="#222" stroke-width="0.7" />
<circle cx="253.05" cy="472.90" r="1.3" fill="#18457a" stroke="#081a36" stroke-width="0.45"/>
<circle cx="255.75" cy="472.90" r="1.3" fill="#18457a" stroke="#081a36" stroke-width="0.45"/>
<circle cx="251.70" cy="470.17" r="1.3" fill="#18457a" stroke="#081a36" stroke-width="0.45"/>
<circle cx="254.40" cy="470.17" r="1.3" fill="#18457a" stroke="#081a36" stroke-width="0.45"/>
<circle cx="257.10" cy="470.17" r="1.3" fill="#18457a" stroke="#081a36" stroke-width="0.45"/>
<circle cx="251.70" cy="467.43" r="1.3" fill="#18457a" stroke="#081a36" stroke-width="0.45"/>
<circle cx="254.40" cy="467.43" r="1.3" fill="#18457a" stroke="#081a36" stroke-width="0.45"/>
<circle cx="257.10" cy="467.43" r="1.3" fill="#18457a" stroke="#081a36" stroke-width="0.45"/>
<circle cx="251.70" cy="464.70" r="1.3" fill="#18457a" stroke="#081a36" stroke-width="0.45"/>
<circle cx="254.40" cy="464.70" r="1.3" fill="#18457a" stroke="#081a36" stroke-width="0.45"/>
<circle cx="257.10" cy="464.70" r="1.3" fill="#18457a" stroke="#081a36" stroke-width="0.45"/>
<circle cx="251.70" cy="461.97" r="1.3" fill="#18457a" stroke="#081a36" stroke-width="0.45"/>
<circle cx="254.40" cy="461.97" r="1.3" fill="#18457a" stroke="#081a36" stroke-width="0.45"/>
<circle cx="257.10" cy="461.97" r="1.3" fill="#18457a" stroke="#081a36" stroke-width="0.45"/>
<circle cx="250.35" cy="459.23" r="1.3" fill="#18457a" stroke="#081a36" stroke-width="0.45"/>
<circle cx="253.05" cy="459.23" r="1.3" fill="#18457a" stroke="#081a36" stroke-width="0.45"/>
<circle cx="255.75" cy="459.23" r="1.3" fill="#18457a" stroke="#081a36" stroke-width="0.45"/>
<circle cx="258.45" cy="459.23" r="1.3" fill="#18457a" stroke="#081a36" stroke-width="0.45"/>
<circle cx="250.35" cy="456.50" r="1.3" fill="#18457a" stroke="#081a36" stroke-width="0.45"/>
<circle cx="253.05" cy="456.50" r="1.3" fill="#18457a" stroke="#081a36" stroke-width="0.45"/>
<circle cx="255.75" cy="456.50" r="1.3" fill="#18457a" stroke="#081a36" stroke-width="0.45"/>
<circle cx="258.45" cy="456.50" r="1.3" fill="#18457a" stroke="#081a36" stroke-width="0.45"/>
<circle cx="251.70" cy="453.77" r="1.3" fill="#18457a" stroke="#081a36" stroke-width="0.45"/>
<circle cx="254.40" cy="453.77" r="1.3" fill="#18457a" stroke="#081a36" stroke-width="0.45"/>
<circle cx="257.10" cy="453.77" r="1.3" fill="#18457a" stroke="#081a36" stroke-width="0.45"/>
<circle cx="251.70" cy="451.03" r="1.3" fill="#18457a" stroke="#081a36" stroke-width="0.45"/>
<circle cx="254.40" cy="451.03" r="1.3" fill="#18457a" stroke="#081a36" stroke-width="0.45"/>
<circle cx="257.10" cy="451.03" r="1.3" fill="#18457a" stroke="#081a36" stroke-width="0.45"/>
<circle cx="253.05" cy="448.30" r="1.3" fill="#18457a" stroke="#081a36" stroke-width="0.45"/>
<circle cx="255.75" cy="448.30" r="1.3" fill="#18457a" stroke="#081a36" stroke-width="0.45"/>
<circle cx="253.05" cy="445.57" r="1.3" fill="#18457a" stroke="#081a36" stroke-width="0.45"/>
<circle cx="255.75" cy="445.57" r="1.3" fill="#18457a" stroke="#081a36" stroke-width="0.45"/>
<circle cx="253.05" cy="442.83" r="1.3" fill="#18457a" stroke="#081a36" stroke-width="0.45"/>
<circle cx="255.75" cy="442.83" r="1.3" fill="#18457a" stroke="#081a36" stroke-width="0.45"/>
<circle cx="254.40" cy="440.10" r="1.3" fill="#18457a" stroke="#081a36" stroke-width="0.45"/>
<circle cx="254.40" cy="437.37" r="1.3" fill="#18457a" stroke="#081a36" stroke-width="0.45"/>
<circle cx="254.40" cy="434.63" r="1.3" fill="#18457a" stroke="#081a36" stroke-width="0.45"/>
<circle cx="254.40" cy="426.43" r="1.3" fill="#18457a" stroke="#081a36" stroke-width="0.45"/>
<circle cx="254.40" cy="412.77" r="1.3" fill="#18457a" stroke="#081a36" stroke-width="0.45"/>
<circle cx="254.40" cy="407.30" r="1.3" fill="#18457a" stroke="#081a36" stroke-width="0.45"/>
<circle cx="254.40" cy="401.83" r="1.3" fill="#18457a" stroke="#081a36" stroke-width="0.45"/>
<circle cx="254.40" cy="399.10" r="1.3" fill="#18457a" stroke="#081a36" stroke-width="0.45"/>
<circle cx="254.40" cy="328.03" r="1.3" fill="#18457a" stroke="#081a36" stroke-width="0.45"/>
<line x1="248.90" y1="457.10" x2="259.90" y2="457.10" stroke="#111" stroke-width="0.9" />
<text x="254.40" y="485.00" font-size="6.0" text-anchor="middle" fill="#222" font-weight="normal" font-style="normal"  stroke="#222" stroke-width="0.05">≥M2</text>
<line x1="282.40" y1="473.50" x2="282.40" y2="475.30" stroke="#222" stroke-width="0.7" />
<line x1="278.90" y1="472.13" x2="285.90" y2="472.13" stroke="#d99a2a" stroke-width="0.9" />
<text x="282.40" y="485.00" font-size="6.0" text-anchor="middle" fill="#222" font-weight="normal" font-style="normal"  stroke="#222" stroke-width="0.05">M1</text>
<line x1="299.00" y1="473.50" x2="299.00" y2="475.30" stroke="#222" stroke-width="0.7" />
<text x="299.00" y="485.00" font-size="6.0" text-anchor="middle" fill="#222" font-weight="normal" font-style="normal"  stroke="#222" stroke-width="0.05">≥M2</text>
<line x1="327.00" y1="473.50" x2="327.00" y2="475.30" stroke="#222" stroke-width="0.7" />
<circle cx="327.00" cy="451.03" r="1.3" fill="#36ad3f" stroke="#1b6426" stroke-width="0.45"/>
<circle cx="327.00" cy="472.90" r="1.3" fill="#36ad3f" stroke="#1b6426" stroke-width="0.45"/>
<line x1="321.50" y1="463.11" x2="332.50" y2="463.11" stroke="#111" stroke-width="0.9" />
<text x="327.00" y="485.00" font-size="6.0" text-anchor="middle" fill="#222" font-weight="normal" font-style="normal"  stroke="#222" stroke-width="0.05">M1</text>
<line x1="343.70" y1="473.50" x2="343.70" y2="475.30" stroke="#222" stroke-width="0.7" />
<circle cx="343.70" cy="415.50" r="1.3" fill="#36ad3f" stroke="#1b6426" stroke-width="0.45"/>
<circle cx="343.70" cy="423.70" r="1.3" fill="#36ad3f" stroke="#1b6426" stroke-width="0.45"/>
<circle cx="343.70" cy="426.43" r="1.3" fill="#36ad3f" stroke="#1b6426" stroke-width="0.45"/>
<circle cx="343.70" cy="440.10" r="1.3" fill="#36ad3f" stroke="#1b6426" stroke-width="0.45"/>
<circle cx="342.35" cy="445.57" r="1.3" fill="#36ad3f" stroke="#1b6426" stroke-width="0.45"/>
<circle cx="345.05" cy="445.57" r="1.3" fill="#36ad3f" stroke="#1b6426" stroke-width="0.45"/>
<circle cx="343.70" cy="448.30" r="1.3" fill="#36ad3f" stroke="#1b6426" stroke-width="0.45"/>
<circle cx="341.00" cy="459.23" r="1.3" fill="#36ad3f" stroke="#1b6426" stroke-width="0.45"/>
<circle cx="343.70" cy="459.23" r="1.3" fill="#36ad3f" stroke="#1b6426" stroke-width="0.45"/>
<circle cx="346.40" cy="459.23" r="1.3" fill="#36ad3f" stroke="#1b6426" stroke-width="0.45"/>
<circle cx="342.35" cy="461.97" r="1.3" fill="#36ad3f" stroke="#1b6426" stroke-width="0.45"/>
<circle cx="345.05" cy="461.97" r="1.3" fill="#36ad3f" stroke="#1b6426" stroke-width="0.45"/>
<circle cx="343.70" cy="467.43" r="1.3" fill="#36ad3f" stroke="#1b6426" stroke-width="0.45"/>
<circle cx="343.70" cy="470.17" r="1.3" fill="#36ad3f" stroke="#1b6426" stroke-width="0.45"/>
<line x1="338.20" y1="454.37" x2="349.20" y2="454.37" stroke="#111" stroke-width="0.9" />
<text x="343.70" y="485.00" font-size="6.0" text-anchor="middle" fill="#222" font-weight="normal" font-style="normal"  stroke="#222" stroke-width="0.05">≥M2</text>
<line x1="371.30" y1="473.50" x2="371.30" y2="475.30" stroke="#222" stroke-width="0.7" />
<circle cx="368.60" cy="464.70" r="1.3" fill="#4e1f70" stroke="#22093a" stroke-width="0.45"/>
<circle cx="371.30" cy="464.70" r="1.3" fill="#4e1f70" stroke="#22093a" stroke-width="0.45"/>
<circle cx="374.00" cy="464.70" r="1.3" fill="#4e1f70" stroke="#22093a" stroke-width="0.45"/>
<circle cx="365.90" cy="472.90" r="1.3" fill="#4e1f70" stroke="#22093a" stroke-width="0.45"/>
<circle cx="368.60" cy="472.90" r="1.3" fill="#4e1f70" stroke="#22093a" stroke-width="0.45"/>
<circle cx="371.30" cy="472.90" r="1.3" fill="#4e1f70" stroke="#22093a" stroke-width="0.45"/>
<circle cx="374.00" cy="472.90" r="1.3" fill="#4e1f70" stroke="#22093a" stroke-width="0.45"/>
<circle cx="376.70" cy="472.90" r="1.3" fill="#4e1f70" stroke="#22093a" stroke-width="0.45"/>
<line x1="366.30" y1="470.77" x2="376.30" y2="470.77" stroke="#222" stroke-width="0.9" />
<text x="371.30" y="485.00" font-size="6.0" text-anchor="middle" fill="#222" font-weight="normal" font-style="normal"  stroke="#222" stroke-width="0.05">M1</text>
<line x1="388.20" y1="473.50" x2="388.20" y2="475.30" stroke="#222" stroke-width="0.7" />
<circle cx="388.20" cy="448.30" r="1.3" fill="#4e1f70" stroke="#22093a" stroke-width="0.45"/>
<circle cx="388.20" cy="456.50" r="1.3" fill="#4e1f70" stroke="#22093a" stroke-width="0.45"/>
<circle cx="388.20" cy="461.97" r="1.3" fill="#4e1f70" stroke="#22093a" stroke-width="0.45"/>
<circle cx="388.20" cy="464.70" r="1.3" fill="#4e1f70" stroke="#22093a" stroke-width="0.45"/>
<circle cx="388.20" cy="467.43" r="1.3" fill="#4e1f70" stroke="#22093a" stroke-width="0.45"/>
<circle cx="385.50" cy="470.17" r="1.3" fill="#4e1f70" stroke="#22093a" stroke-width="0.45"/>
<circle cx="388.20" cy="470.17" r="1.3" fill="#4e1f70" stroke="#22093a" stroke-width="0.45"/>
<circle cx="390.90" cy="470.17" r="1.3" fill="#4e1f70" stroke="#22093a" stroke-width="0.45"/>
<circle cx="381.45" cy="472.90" r="1.3" fill="#4e1f70" stroke="#22093a" stroke-width="0.45"/>
<circle cx="384.15" cy="472.90" r="1.3" fill="#4e1f70" stroke="#22093a" stroke-width="0.45"/>
<circle cx="386.85" cy="472.90" r="1.3" fill="#4e1f70" stroke="#22093a" stroke-width="0.45"/>
<circle cx="389.55" cy="472.90" r="1.3" fill="#4e1f70" stroke="#22093a" stroke-width="0.45"/>
<circle cx="392.25" cy="472.90" r="1.3" fill="#4e1f70" stroke="#22093a" stroke-width="0.45"/>
<circle cx="394.95" cy="472.90" r="1.3" fill="#4e1f70" stroke="#22093a" stroke-width="0.45"/>
<line x1="383.20" y1="470.22" x2="393.20" y2="470.22" stroke="#222" stroke-width="0.9" />
<text x="388.20" y="485.00" font-size="6.0" text-anchor="middle" fill="#222" font-weight="normal" font-style="normal"  stroke="#222" stroke-width="0.05">≥M2</text>
<text x="0" y="0" font-size="7.8" text-anchor="middle" fill="#222" font-weight="bold" font-style="normal" transform="translate(312.80,495.60) rotate(0) scale(0.647,1)" >Disease burden</text>
<text x="0" y="0" font-size="8" text-anchor="middle" fill="#222" font-weight="bold" font-style="normal" transform="translate(208.80,391.00) rotate(-90) scale(0.664,1)" >≥Gr3 NC AEs per patient</text>
<circle cx="409.4" cy="360.00" r="1.25" fill="#18457a" stroke="#081a36" stroke-width="0.4"/>
<text x="413.70" y="362.00" font-size="5.8" text-anchor="start" fill="#2a2a2a" font-weight="normal" font-style="normal"  stroke="#2a2a2a" stroke-width="0.05">+CR/+CRS; n = 86</text>
<circle cx="409.4" cy="372.90" r="1.25" fill="#e8a624" stroke="#a87410" stroke-width="0.4"/>
<text x="413.70" y="374.90" font-size="5.8" text-anchor="start" fill="#2a2a2a" font-weight="normal" font-style="normal"  stroke="#2a2a2a" stroke-width="0.05">+CR/−CRS; n = 2</text>
<circle cx="409.4" cy="385.80" r="1.25" fill="#36ad3f" stroke="#1b6426" stroke-width="0.4"/>
<text x="413.70" y="387.80" font-size="5.8" text-anchor="start" fill="#2a2a2a" font-weight="normal" font-style="normal"  stroke="#2a2a2a" stroke-width="0.05">−CR/+CRS; n = 17</text>
<circle cx="409.4" cy="398.70" r="1.25" fill="#4e1f70" stroke="#22093a" stroke-width="0.4"/>
<text x="413.70" y="400.70" font-size="5.8" text-anchor="start" fill="#2a2a2a" font-weight="normal" font-style="normal"  stroke="#2a2a2a" stroke-width="0.05">−CR/−CRS; n = 28</text>
</g>
<rect x="0.5" y="0.5" width="519" height="527" fill="none" stroke="#666" stroke-width="1"/>
</svg>
</body></html>
